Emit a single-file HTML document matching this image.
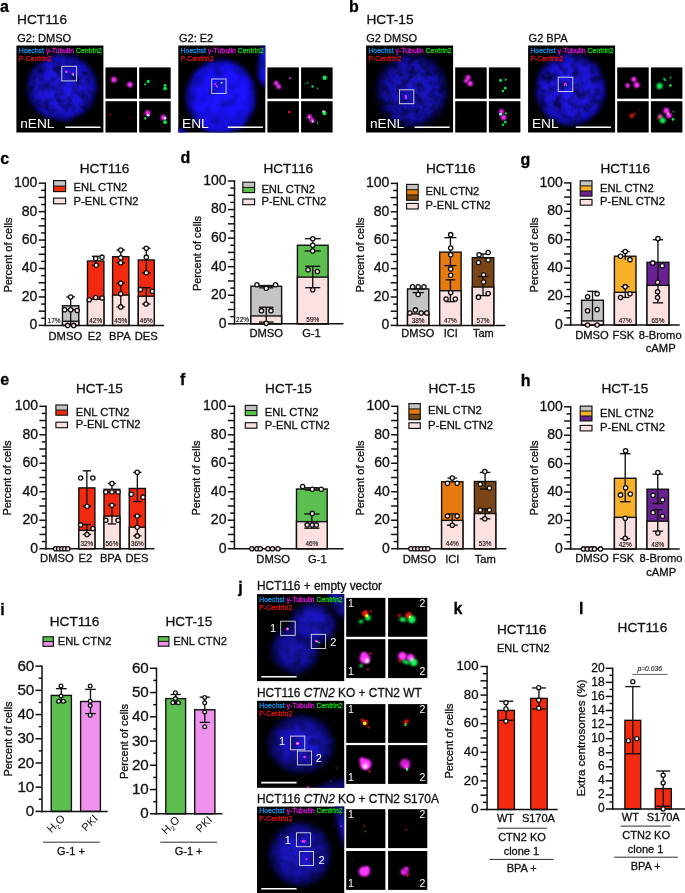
<!DOCTYPE html>
<html><head><meta charset="utf-8"><title>Figure</title>
<style>
html,body{margin:0;padding:0;background:#fff;}
svg{display:block;font-family:"Liberation Sans", Arial, Helvetica, sans-serif;}
</style></head><body>
<svg width="685" height="893" viewBox="0 0 685 893">
<rect width="685" height="893" fill="#fff"/>
<rect x="62.5" y="305.78" width="16.3" height="19.62" fill="#c4c4c4" stroke="#111" stroke-width="1.4" />
<rect x="62.5" y="321.28" width="16.3" height="4.12" fill="#fde0e0" stroke="#111" stroke-width="1.4" />
<line x1="70.65" y1="309.76" x2="70.65" y2="296.96" stroke="#111" stroke-width="1.35"/>
<line x1="66.35" y1="309.76" x2="74.95" y2="309.76" stroke="#111" stroke-width="1.35"/>
<line x1="66.35" y1="296.96" x2="74.95" y2="296.96" stroke="#111" stroke-width="1.35"/>
<line x1="70.65" y1="325.4" x2="70.65" y2="309.76" stroke="#111" stroke-width="1.35"/>
<text transform="translate(54 323.1) scale(0.86 1)" font-size="7.5" text-anchor="middle" fill="#111" stroke="#111" stroke-width="0.15">17%</text>
<rect x="87.5" y="260.98" width="16.4" height="64.42" fill="#f12a10" stroke="#111" stroke-width="1.4" />
<rect x="87.5" y="299.24" width="16.4" height="26.16" fill="#fde0e0" stroke="#111" stroke-width="1.4" />
<line x1="95.7" y1="265.25" x2="95.7" y2="256.29" stroke="#111" stroke-width="1.35"/>
<line x1="91.9" y1="265.25" x2="99.5" y2="265.25" stroke="#111" stroke-width="1.35"/>
<line x1="91.9" y1="256.29" x2="99.5" y2="256.29" stroke="#111" stroke-width="1.35"/>
<text transform="translate(95.7 323.1) scale(0.86 1)" font-size="7.5" text-anchor="middle" fill="#111" stroke="#111" stroke-width="0.15">42%</text>
<rect x="112.6" y="256.72" width="16.3" height="68.68" fill="#f12a10" stroke="#111" stroke-width="1.4" />
<rect x="112.6" y="295.11" width="16.3" height="30.29" fill="#fde0e0" stroke="#111" stroke-width="1.4" />
<line x1="120.75" y1="262.83" x2="120.75" y2="250.03" stroke="#111" stroke-width="1.35"/>
<line x1="116.45" y1="262.83" x2="125.05" y2="262.83" stroke="#111" stroke-width="1.35"/>
<line x1="116.45" y1="250.03" x2="125.05" y2="250.03" stroke="#111" stroke-width="1.35"/>
<line x1="120.75" y1="306.91" x2="120.75" y2="283.17" stroke="#111" stroke-width="1.35"/>
<line x1="116.45" y1="306.91" x2="125.05" y2="306.91" stroke="#111" stroke-width="1.35"/>
<line x1="116.45" y1="283.17" x2="125.05" y2="283.17" stroke="#111" stroke-width="1.35"/>
<text transform="translate(120.75 323.1) scale(0.86 1)" font-size="7.5" text-anchor="middle" fill="#111" stroke="#111" stroke-width="0.15">45%</text>
<rect x="138.3" y="259.99" width="16" height="65.41" fill="#f12a10" stroke="#111" stroke-width="1.4" />
<rect x="138.3" y="296.25" width="16" height="29.15" fill="#fde0e0" stroke="#111" stroke-width="1.4" />
<line x1="146.3" y1="272.79" x2="146.3" y2="248.19" stroke="#111" stroke-width="1.35"/>
<line x1="142" y1="272.79" x2="150.6" y2="272.79" stroke="#111" stroke-width="1.35"/>
<line x1="142" y1="248.19" x2="150.6" y2="248.19" stroke="#111" stroke-width="1.35"/>
<line x1="146.3" y1="304.07" x2="146.3" y2="287.72" stroke="#111" stroke-width="1.35"/>
<line x1="142" y1="304.07" x2="150.6" y2="304.07" stroke="#111" stroke-width="1.35"/>
<line x1="142" y1="287.72" x2="150.6" y2="287.72" stroke="#111" stroke-width="1.35"/>
<text transform="translate(146.3 323.1) scale(0.86 1)" font-size="7.5" text-anchor="middle" fill="#111" stroke="#111" stroke-width="0.15">46%</text>
<line x1="45.3" y1="182.45" x2="45.3" y2="326.15" stroke="#111" stroke-width="1.5"/>
<line x1="44.55" y1="325.4" x2="164" y2="325.4" stroke="#111" stroke-width="1.5"/>
<line x1="38.7" y1="325.4" x2="45.3" y2="325.4" stroke="#111" stroke-width="1.5"/>
<text x="37.35" y="329.29" font-size="14" text-anchor="end" fill="#111" stroke="#111" stroke-width="0.3">0</text>
<line x1="41.1" y1="318.29" x2="45.3" y2="318.29" stroke="#111" stroke-width="1.5"/>
<line x1="38.7" y1="311.18" x2="45.3" y2="311.18" stroke="#111" stroke-width="1.5"/>
<line x1="41.1" y1="304.07" x2="45.3" y2="304.07" stroke="#111" stroke-width="1.5"/>
<line x1="38.7" y1="296.96" x2="45.3" y2="296.96" stroke="#111" stroke-width="1.5"/>
<text x="37.35" y="300.85" font-size="14" text-anchor="end" fill="#111" stroke="#111" stroke-width="0.3">20</text>
<line x1="41.1" y1="289.85" x2="45.3" y2="289.85" stroke="#111" stroke-width="1.5"/>
<line x1="38.7" y1="282.74" x2="45.3" y2="282.74" stroke="#111" stroke-width="1.5"/>
<line x1="41.1" y1="275.63" x2="45.3" y2="275.63" stroke="#111" stroke-width="1.5"/>
<line x1="38.7" y1="268.52" x2="45.3" y2="268.52" stroke="#111" stroke-width="1.5"/>
<text x="37.35" y="272.41" font-size="14" text-anchor="end" fill="#111" stroke="#111" stroke-width="0.3">40</text>
<line x1="41.1" y1="261.41" x2="45.3" y2="261.41" stroke="#111" stroke-width="1.5"/>
<line x1="38.7" y1="254.3" x2="45.3" y2="254.3" stroke="#111" stroke-width="1.5"/>
<line x1="41.1" y1="247.19" x2="45.3" y2="247.19" stroke="#111" stroke-width="1.5"/>
<line x1="38.7" y1="240.08" x2="45.3" y2="240.08" stroke="#111" stroke-width="1.5"/>
<text x="37.35" y="243.97" font-size="14" text-anchor="end" fill="#111" stroke="#111" stroke-width="0.3">60</text>
<line x1="41.1" y1="232.97" x2="45.3" y2="232.97" stroke="#111" stroke-width="1.5"/>
<line x1="38.7" y1="225.86" x2="45.3" y2="225.86" stroke="#111" stroke-width="1.5"/>
<line x1="41.1" y1="218.75" x2="45.3" y2="218.75" stroke="#111" stroke-width="1.5"/>
<line x1="38.7" y1="211.64" x2="45.3" y2="211.64" stroke="#111" stroke-width="1.5"/>
<text x="37.35" y="215.53" font-size="14" text-anchor="end" fill="#111" stroke="#111" stroke-width="0.3">80</text>
<line x1="41.1" y1="204.53" x2="45.3" y2="204.53" stroke="#111" stroke-width="1.5"/>
<line x1="38.7" y1="197.42" x2="45.3" y2="197.42" stroke="#111" stroke-width="1.5"/>
<line x1="41.1" y1="190.31" x2="45.3" y2="190.31" stroke="#111" stroke-width="1.5"/>
<line x1="38.7" y1="183.2" x2="45.3" y2="183.2" stroke="#111" stroke-width="1.5"/>
<text x="37.35" y="187.09" font-size="14" text-anchor="end" fill="#111" stroke="#111" stroke-width="0.3">100</text>
<circle cx="64.65" cy="309.76" r="2.15" fill="#fff" stroke="#111" stroke-width="1.3" />
<circle cx="70.65" cy="309.76" r="2.15" fill="#fff" stroke="#111" stroke-width="1.3" />
<circle cx="77.15" cy="310.47" r="2.15" fill="#fde0e0" stroke="#111" stroke-width="1.3" />
<circle cx="70.65" cy="296.96" r="2.15" fill="#fff" stroke="#111" stroke-width="1.3" />
<circle cx="67.65" cy="325.4" r="2.15" fill="#fde0e0" stroke="#111" stroke-width="1.3" />
<circle cx="73.65" cy="325.4" r="2.15" fill="#fde0e0" stroke="#111" stroke-width="1.3" />
<circle cx="102" cy="257.14" r="2.15" fill="#fff" stroke="#111" stroke-width="1.3" />
<circle cx="95.7" cy="258.57" r="2.15" fill="#fff" stroke="#111" stroke-width="1.3" />
<circle cx="96.2" cy="265.25" r="2.15" fill="#fff" stroke="#111" stroke-width="1.3" />
<circle cx="89.3" cy="299.8" r="2.15" fill="#fde0e0" stroke="#111" stroke-width="1.3" />
<circle cx="95.7" cy="297.53" r="2.15" fill="#fde0e0" stroke="#111" stroke-width="1.3" />
<circle cx="102" cy="297.96" r="2.15" fill="#fde0e0" stroke="#111" stroke-width="1.3" />
<circle cx="120.75" cy="250.03" r="2.15" fill="#fff" stroke="#111" stroke-width="1.3" />
<circle cx="120.75" cy="257.85" r="2.15" fill="#fff" stroke="#111" stroke-width="1.3" />
<circle cx="120.75" cy="262.83" r="2.15" fill="#fff" stroke="#111" stroke-width="1.3" />
<circle cx="120.75" cy="283.17" r="2.15" fill="#fde0e0" stroke="#111" stroke-width="1.3" />
<circle cx="120.75" cy="293.69" r="2.15" fill="#fde0e0" stroke="#111" stroke-width="1.3" />
<circle cx="120.75" cy="306.91" r="2.15" fill="#fde0e0" stroke="#111" stroke-width="1.3" />
<circle cx="146.3" cy="248.19" r="2.15" fill="#fff" stroke="#111" stroke-width="1.3" />
<circle cx="146.3" cy="257.14" r="2.15" fill="#fff" stroke="#111" stroke-width="1.3" />
<circle cx="146.3" cy="272.79" r="2.15" fill="#fff" stroke="#111" stroke-width="1.3" />
<circle cx="140.5" cy="289.57" r="2.15" fill="#fde0e0" stroke="#111" stroke-width="1.3" />
<circle cx="152.2" cy="291.27" r="2.15" fill="#fde0e0" stroke="#111" stroke-width="1.3" />
<circle cx="146" cy="304.07" r="2.15" fill="#fde0e0" stroke="#111" stroke-width="1.3" />
<text x="104.6" y="172.6" font-size="13.6" text-anchor="middle" fill="#111" stroke="#111" stroke-width="0.3">HCT116</text>
<text x="11.8" y="255" font-size="11" text-anchor="middle" fill="#111" transform="rotate(-90 11.8 255)" stroke="#111" stroke-width="0.3">Percent of cells</text>
<text x="65.3" y="339.6" font-size="11.2" text-anchor="middle" fill="#111" stroke="#111" stroke-width="0.3">DMSO</text>
<text x="94.6" y="339.6" font-size="11.2" text-anchor="middle" fill="#111" stroke="#111" stroke-width="0.3">E2</text>
<text x="119.9" y="339.6" font-size="11.2" text-anchor="middle" fill="#111" stroke="#111" stroke-width="0.3">BPA</text>
<text x="146.2" y="339.6" font-size="11.2" text-anchor="middle" fill="#111" stroke="#111" stroke-width="0.3">DES</text>
<rect x="53.6" y="180.6" width="12" height="5.5" fill="#c4c4c4" />
<rect x="53.6" y="186.1" width="12" height="5.5" fill="#f12a10" />
<line x1="53.6" y1="186.1" x2="65.6" y2="186.1" stroke="#111" stroke-width="1"/>
<rect x="53.6" y="180.6" width="12" height="11" fill="none" stroke="#111" stroke-width="1.15" />
<text x="73.6" y="191.3" font-size="11.2" fill="#111" stroke="#111" stroke-width="0.3">ENL CTN2</text>
<rect x="53.6" y="198.1" width="12" height="5.7" fill="#fde0e0" stroke="#111" stroke-width="1.15" />
<text x="73.6" y="204.5" font-size="11.2" fill="#111" stroke="#111" stroke-width="0.3">P-ENL CTN2</text>
<rect x="250.9" y="286.24" width="30.7" height="37.56" fill="#c4c4c4" stroke="#111" stroke-width="1.4" />
<rect x="250.9" y="315.95" width="30.7" height="7.85" fill="#fde0e0" stroke="#111" stroke-width="1.4" />
<line x1="266.25" y1="287.81" x2="266.25" y2="285.53" stroke="#111" stroke-width="1.35"/>
<line x1="259.25" y1="287.81" x2="273.25" y2="287.81" stroke="#111" stroke-width="1.35"/>
<line x1="259.25" y1="285.53" x2="273.25" y2="285.53" stroke="#111" stroke-width="1.35"/>
<line x1="266.25" y1="322.09" x2="266.25" y2="307.24" stroke="#111" stroke-width="1.35"/>
<line x1="258.95" y1="322.09" x2="273.55" y2="322.09" stroke="#111" stroke-width="1.35"/>
<line x1="258.95" y1="307.24" x2="273.55" y2="307.24" stroke="#111" stroke-width="1.35"/>
<text transform="translate(242.5 321.5) scale(0.86 1)" font-size="7.5" text-anchor="middle" fill="#111" stroke="#111" stroke-width="0.15">22%</text>
<rect x="297.4" y="245.26" width="30.7" height="78.54" fill="#5cbf4f" stroke="#111" stroke-width="1.4" />
<rect x="297.4" y="277.1" width="30.7" height="46.7" fill="#fde0e0" stroke="#111" stroke-width="1.4" />
<line x1="312.75" y1="250.97" x2="312.75" y2="238.69" stroke="#111" stroke-width="1.35"/>
<line x1="304.75" y1="250.97" x2="320.75" y2="250.97" stroke="#111" stroke-width="1.35"/>
<line x1="304.75" y1="238.69" x2="320.75" y2="238.69" stroke="#111" stroke-width="1.35"/>
<line x1="312.75" y1="287.67" x2="312.75" y2="266.25" stroke="#111" stroke-width="1.35"/>
<line x1="305.25" y1="287.67" x2="320.25" y2="287.67" stroke="#111" stroke-width="1.35"/>
<line x1="305.25" y1="266.25" x2="320.25" y2="266.25" stroke="#111" stroke-width="1.35"/>
<text transform="translate(312.75 321.5) scale(0.86 1)" font-size="7.5" text-anchor="middle" fill="#111" stroke="#111" stroke-width="0.15">59%</text>
<line x1="234.5" y1="180.25" x2="234.5" y2="324.55" stroke="#111" stroke-width="1.5"/>
<line x1="233.75" y1="323.8" x2="343.4" y2="323.8" stroke="#111" stroke-width="1.5"/>
<line x1="227.9" y1="323.8" x2="234.5" y2="323.8" stroke="#111" stroke-width="1.5"/>
<text x="226.55" y="327.69" font-size="14" text-anchor="end" fill="#111" stroke="#111" stroke-width="0.3">0</text>
<line x1="230.3" y1="316.66" x2="234.5" y2="316.66" stroke="#111" stroke-width="1.5"/>
<line x1="227.9" y1="309.52" x2="234.5" y2="309.52" stroke="#111" stroke-width="1.5"/>
<line x1="230.3" y1="302.38" x2="234.5" y2="302.38" stroke="#111" stroke-width="1.5"/>
<line x1="227.9" y1="295.24" x2="234.5" y2="295.24" stroke="#111" stroke-width="1.5"/>
<text x="226.55" y="299.13" font-size="14" text-anchor="end" fill="#111" stroke="#111" stroke-width="0.3">20</text>
<line x1="230.3" y1="288.1" x2="234.5" y2="288.1" stroke="#111" stroke-width="1.5"/>
<line x1="227.9" y1="280.96" x2="234.5" y2="280.96" stroke="#111" stroke-width="1.5"/>
<line x1="230.3" y1="273.82" x2="234.5" y2="273.82" stroke="#111" stroke-width="1.5"/>
<line x1="227.9" y1="266.68" x2="234.5" y2="266.68" stroke="#111" stroke-width="1.5"/>
<text x="226.55" y="270.57" font-size="14" text-anchor="end" fill="#111" stroke="#111" stroke-width="0.3">40</text>
<line x1="230.3" y1="259.54" x2="234.5" y2="259.54" stroke="#111" stroke-width="1.5"/>
<line x1="227.9" y1="252.4" x2="234.5" y2="252.4" stroke="#111" stroke-width="1.5"/>
<line x1="230.3" y1="245.26" x2="234.5" y2="245.26" stroke="#111" stroke-width="1.5"/>
<line x1="227.9" y1="238.12" x2="234.5" y2="238.12" stroke="#111" stroke-width="1.5"/>
<text x="226.55" y="242.01" font-size="14" text-anchor="end" fill="#111" stroke="#111" stroke-width="0.3">60</text>
<line x1="230.3" y1="230.98" x2="234.5" y2="230.98" stroke="#111" stroke-width="1.5"/>
<line x1="227.9" y1="223.84" x2="234.5" y2="223.84" stroke="#111" stroke-width="1.5"/>
<line x1="230.3" y1="216.7" x2="234.5" y2="216.7" stroke="#111" stroke-width="1.5"/>
<line x1="227.9" y1="209.56" x2="234.5" y2="209.56" stroke="#111" stroke-width="1.5"/>
<text x="226.55" y="213.45" font-size="14" text-anchor="end" fill="#111" stroke="#111" stroke-width="0.3">80</text>
<line x1="230.3" y1="202.42" x2="234.5" y2="202.42" stroke="#111" stroke-width="1.5"/>
<line x1="227.9" y1="195.28" x2="234.5" y2="195.28" stroke="#111" stroke-width="1.5"/>
<line x1="230.3" y1="188.14" x2="234.5" y2="188.14" stroke="#111" stroke-width="1.5"/>
<line x1="227.9" y1="181" x2="234.5" y2="181" stroke="#111" stroke-width="1.5"/>
<text x="226.55" y="184.89" font-size="14" text-anchor="end" fill="#111" stroke="#111" stroke-width="0.3">100</text>
<circle cx="256.95" cy="284.82" r="2.15" fill="#fff" stroke="#111" stroke-width="1.3" />
<circle cx="275.55" cy="284.82" r="2.15" fill="#fff" stroke="#111" stroke-width="1.3" />
<circle cx="266.25" cy="288.24" r="2.15" fill="#fff" stroke="#111" stroke-width="1.3" />
<circle cx="261.45" cy="310.66" r="2.15" fill="#fde0e0" stroke="#111" stroke-width="1.3" />
<circle cx="270.95" cy="310.66" r="2.15" fill="#fde0e0" stroke="#111" stroke-width="1.3" />
<circle cx="266.25" cy="323.37" r="2.15" fill="#fde0e0" stroke="#111" stroke-width="1.3" />
<circle cx="312.75" cy="238.69" r="2.15" fill="#fff" stroke="#111" stroke-width="1.3" />
<circle cx="312.75" cy="245.26" r="2.15" fill="#fff" stroke="#111" stroke-width="1.3" />
<circle cx="312.75" cy="250.97" r="2.15" fill="#fff" stroke="#111" stroke-width="1.3" />
<circle cx="308.05" cy="269.82" r="2.15" fill="#fde0e0" stroke="#111" stroke-width="1.3" />
<circle cx="317.35" cy="271.54" r="2.15" fill="#fde0e0" stroke="#111" stroke-width="1.3" />
<circle cx="312.75" cy="289.81" r="2.15" fill="#fde0e0" stroke="#111" stroke-width="1.3" />
<text x="288.2" y="172.6" font-size="13.6" text-anchor="middle" fill="#111" stroke="#111" stroke-width="0.3">HCT116</text>
<text x="201.2" y="253.5" font-size="11" text-anchor="middle" fill="#111" transform="rotate(-90 201.2 253.5)" stroke="#111" stroke-width="0.3">Percent of cells</text>
<text x="266.2" y="336.6" font-size="11.2" text-anchor="middle" fill="#111" stroke="#111" stroke-width="0.3">DMSO</text>
<text x="311.5" y="336.6" font-size="11.2" text-anchor="middle" fill="#111" stroke="#111" stroke-width="0.3">G-1</text>
<rect x="242.8" y="182.2" width="11.8" height="5.2" fill="#c4c4c4" />
<rect x="242.8" y="187.4" width="11.8" height="5.2" fill="#5cbf4f" />
<line x1="242.8" y1="187.4" x2="254.6" y2="187.4" stroke="#111" stroke-width="1"/>
<rect x="242.8" y="182.2" width="11.8" height="10.4" fill="none" stroke="#111" stroke-width="1.15" />
<text x="261.4" y="192.6" font-size="11.2" fill="#111" stroke="#111" stroke-width="0.3">ENL CTN2</text>
<rect x="242.8" y="199" width="11.8" height="5.7" fill="#fde0e0" stroke="#111" stroke-width="1.15" />
<text x="261.4" y="205.2" font-size="11.2" fill="#111" stroke="#111" stroke-width="0.3">P-ENL CTN2</text>
<rect x="407.5" y="288.91" width="21.3" height="36.49" fill="#c4c4c4" stroke="#111" stroke-width="1.4" />
<rect x="407.5" y="313.9" width="21.3" height="11.5" fill="#fde0e0" stroke="#111" stroke-width="1.4" />
<line x1="418.15" y1="292.6" x2="418.15" y2="288.91" stroke="#111" stroke-width="1.35"/>
<line x1="412.55" y1="292.6" x2="423.75" y2="292.6" stroke="#111" stroke-width="1.35"/>
<line x1="412.55" y1="288.91" x2="423.75" y2="288.91" stroke="#111" stroke-width="1.35"/>
<text transform="translate(418.15 323.1) scale(0.86 1)" font-size="7.5" text-anchor="middle" fill="#111" stroke="#111" stroke-width="0.15">38%</text>
<rect x="439.7" y="252.13" width="21.4" height="73.27" fill="#e67a0e" stroke="#111" stroke-width="1.4" />
<rect x="439.7" y="290.75" width="21.4" height="34.65" fill="#fde0e0" stroke="#111" stroke-width="1.4" />
<line x1="450.4" y1="265.62" x2="450.4" y2="237.64" stroke="#111" stroke-width="1.35"/>
<line x1="444.4" y1="265.62" x2="456.4" y2="265.62" stroke="#111" stroke-width="1.35"/>
<line x1="444.4" y1="237.64" x2="456.4" y2="237.64" stroke="#111" stroke-width="1.35"/>
<line x1="450.4" y1="301.69" x2="450.4" y2="279.82" stroke="#111" stroke-width="1.35"/>
<line x1="445.6" y1="301.69" x2="455.2" y2="301.69" stroke="#111" stroke-width="1.35"/>
<line x1="445.6" y1="279.82" x2="455.2" y2="279.82" stroke="#111" stroke-width="1.35"/>
<text transform="translate(450.4 323.1) scale(0.86 1)" font-size="7.5" text-anchor="middle" fill="#111" stroke="#111" stroke-width="0.15">47%</text>
<rect x="472.3" y="257.67" width="21.5" height="67.73" fill="#7a4516" stroke="#111" stroke-width="1.4" />
<rect x="472.3" y="287.06" width="21.5" height="38.34" fill="#fde0e0" stroke="#111" stroke-width="1.4" />
<line x1="483.05" y1="257.67" x2="483.05" y2="253.97" stroke="#111" stroke-width="1.35"/>
<line x1="478.85" y1="253.97" x2="487.25" y2="253.97" stroke="#111" stroke-width="1.35"/>
<line x1="483.05" y1="295.58" x2="483.05" y2="276.55" stroke="#111" stroke-width="1.35"/>
<line x1="477.75" y1="295.58" x2="488.35" y2="295.58" stroke="#111" stroke-width="1.35"/>
<line x1="477.75" y1="276.55" x2="488.35" y2="276.55" stroke="#111" stroke-width="1.35"/>
<text transform="translate(483.05 323.1) scale(0.86 1)" font-size="7.5" text-anchor="middle" fill="#111" stroke="#111" stroke-width="0.15">57%</text>
<line x1="397.3" y1="182.65" x2="397.3" y2="326.15" stroke="#111" stroke-width="1.5"/>
<line x1="396.55" y1="325.4" x2="505.4" y2="325.4" stroke="#111" stroke-width="1.5"/>
<line x1="390.7" y1="325.4" x2="397.3" y2="325.4" stroke="#111" stroke-width="1.5"/>
<text x="389.35" y="329.29" font-size="14" text-anchor="end" fill="#111" stroke="#111" stroke-width="0.3">0</text>
<line x1="393.1" y1="318.3" x2="397.3" y2="318.3" stroke="#111" stroke-width="1.5"/>
<line x1="390.7" y1="311.2" x2="397.3" y2="311.2" stroke="#111" stroke-width="1.5"/>
<line x1="393.1" y1="304.1" x2="397.3" y2="304.1" stroke="#111" stroke-width="1.5"/>
<line x1="390.7" y1="297" x2="397.3" y2="297" stroke="#111" stroke-width="1.5"/>
<text x="389.35" y="300.89" font-size="14" text-anchor="end" fill="#111" stroke="#111" stroke-width="0.3">20</text>
<line x1="393.1" y1="289.9" x2="397.3" y2="289.9" stroke="#111" stroke-width="1.5"/>
<line x1="390.7" y1="282.8" x2="397.3" y2="282.8" stroke="#111" stroke-width="1.5"/>
<line x1="393.1" y1="275.7" x2="397.3" y2="275.7" stroke="#111" stroke-width="1.5"/>
<line x1="390.7" y1="268.6" x2="397.3" y2="268.6" stroke="#111" stroke-width="1.5"/>
<text x="389.35" y="272.49" font-size="14" text-anchor="end" fill="#111" stroke="#111" stroke-width="0.3">40</text>
<line x1="393.1" y1="261.5" x2="397.3" y2="261.5" stroke="#111" stroke-width="1.5"/>
<line x1="390.7" y1="254.4" x2="397.3" y2="254.4" stroke="#111" stroke-width="1.5"/>
<line x1="393.1" y1="247.3" x2="397.3" y2="247.3" stroke="#111" stroke-width="1.5"/>
<line x1="390.7" y1="240.2" x2="397.3" y2="240.2" stroke="#111" stroke-width="1.5"/>
<text x="389.35" y="244.09" font-size="14" text-anchor="end" fill="#111" stroke="#111" stroke-width="0.3">60</text>
<line x1="393.1" y1="233.1" x2="397.3" y2="233.1" stroke="#111" stroke-width="1.5"/>
<line x1="390.7" y1="226" x2="397.3" y2="226" stroke="#111" stroke-width="1.5"/>
<line x1="393.1" y1="218.9" x2="397.3" y2="218.9" stroke="#111" stroke-width="1.5"/>
<line x1="390.7" y1="211.8" x2="397.3" y2="211.8" stroke="#111" stroke-width="1.5"/>
<text x="389.35" y="215.69" font-size="14" text-anchor="end" fill="#111" stroke="#111" stroke-width="0.3">80</text>
<line x1="393.1" y1="204.7" x2="397.3" y2="204.7" stroke="#111" stroke-width="1.5"/>
<line x1="390.7" y1="197.6" x2="397.3" y2="197.6" stroke="#111" stroke-width="1.5"/>
<line x1="393.1" y1="190.5" x2="397.3" y2="190.5" stroke="#111" stroke-width="1.5"/>
<line x1="390.7" y1="183.4" x2="397.3" y2="183.4" stroke="#111" stroke-width="1.5"/>
<text x="389.35" y="187.29" font-size="14" text-anchor="end" fill="#111" stroke="#111" stroke-width="0.3">100</text>
<circle cx="412.55" cy="286.78" r="2.15" fill="#fff" stroke="#111" stroke-width="1.3" />
<circle cx="418.15" cy="286.78" r="2.15" fill="#fff" stroke="#111" stroke-width="1.3" />
<circle cx="423.95" cy="286.78" r="2.15" fill="#fff" stroke="#111" stroke-width="1.3" />
<circle cx="418.15" cy="294.44" r="2.15" fill="#fff" stroke="#111" stroke-width="1.3" />
<circle cx="409.85" cy="313.05" r="2.15" fill="#fde0e0" stroke="#111" stroke-width="1.3" />
<circle cx="415.35" cy="309.92" r="2.15" fill="#fde0e0" stroke="#111" stroke-width="1.3" />
<circle cx="421.15" cy="313.05" r="2.15" fill="#fde0e0" stroke="#111" stroke-width="1.3" />
<circle cx="426.75" cy="313.05" r="2.15" fill="#fde0e0" stroke="#111" stroke-width="1.3" />
<circle cx="450.7" cy="234.66" r="2.15" fill="#fff" stroke="#111" stroke-width="1.3" />
<circle cx="450.7" cy="248.01" r="2.15" fill="#fff" stroke="#111" stroke-width="1.3" />
<circle cx="450.7" cy="254.68" r="2.15" fill="#fff" stroke="#111" stroke-width="1.3" />
<circle cx="450.7" cy="268.88" r="2.15" fill="#fff" stroke="#111" stroke-width="1.3" />
<circle cx="450.7" cy="275.27" r="2.15" fill="#fff" stroke="#111" stroke-width="1.3" />
<circle cx="450.7" cy="292.6" r="2.15" fill="#fde0e0" stroke="#111" stroke-width="1.3" />
<circle cx="446.1" cy="298.99" r="2.15" fill="#fde0e0" stroke="#111" stroke-width="1.3" />
<circle cx="455.3" cy="298.99" r="2.15" fill="#fde0e0" stroke="#111" stroke-width="1.3" />
<circle cx="488.15" cy="252.55" r="2.15" fill="#fff" stroke="#111" stroke-width="1.3" />
<circle cx="479.05" cy="254.68" r="2.15" fill="#fff" stroke="#111" stroke-width="1.3" />
<circle cx="478.45" cy="262.49" r="2.15" fill="#fff" stroke="#111" stroke-width="1.3" />
<circle cx="488.15" cy="260.08" r="2.15" fill="#fff" stroke="#111" stroke-width="1.3" />
<circle cx="483.55" cy="274.71" r="2.15" fill="#fde0e0" stroke="#111" stroke-width="1.3" />
<circle cx="483.55" cy="281.95" r="2.15" fill="#fde0e0" stroke="#111" stroke-width="1.3" />
<circle cx="488.15" cy="293.45" r="2.15" fill="#fde0e0" stroke="#111" stroke-width="1.3" />
<circle cx="478.45" cy="297.14" r="2.15" fill="#fde0e0" stroke="#111" stroke-width="1.3" />
<text x="450.8" y="172.5" font-size="13.6" text-anchor="middle" fill="#111" stroke="#111" stroke-width="0.3">HCT116</text>
<text x="363.6" y="255" font-size="11" text-anchor="middle" fill="#111" transform="rotate(-90 363.6 255)" stroke="#111" stroke-width="0.3">Percent of cells</text>
<text x="417.8" y="337.3" font-size="11" text-anchor="middle" fill="#111" stroke="#111" stroke-width="0.3">DMSO</text>
<text x="450.7" y="337.3" font-size="11" text-anchor="middle" fill="#111" stroke="#111" stroke-width="0.3">ICI</text>
<text x="483.3" y="337.3" font-size="11" text-anchor="middle" fill="#111" stroke="#111" stroke-width="0.3">Tam</text>
<rect x="406.6" y="184.4" width="11.6" height="5.3" fill="#c4c4c4" />
<rect x="406.6" y="189.7" width="11.6" height="5.3" fill="#e67a0e" />
<rect x="406.6" y="195" width="11.6" height="5.3" fill="#7a4516" />
<line x1="406.6" y1="189.7" x2="418.2" y2="189.7" stroke="#111" stroke-width="1"/>
<line x1="406.6" y1="195" x2="418.2" y2="195" stroke="#111" stroke-width="1"/>
<rect x="406.6" y="184.4" width="11.6" height="15.9" fill="none" stroke="#111" stroke-width="1.15" />
<text x="425.6" y="194.8" font-size="11.2" fill="#111" stroke="#111" stroke-width="0.3">ENL CTN2</text>
<rect x="406.6" y="203.4" width="11.6" height="5.6" fill="#fde0e0" stroke="#111" stroke-width="1.15" />
<text x="425.6" y="209" font-size="11.2" fill="#111" stroke="#111" stroke-width="0.3">P-ENL CTN2</text>
<rect x="581.6" y="300.27" width="21.8" height="24.73" fill="#c4c4c4" stroke="#111" stroke-width="1.4" />
<rect x="581.6" y="320.88" width="21.8" height="4.12" fill="#fde0e0" stroke="#111" stroke-width="1.4" />
<line x1="592.5" y1="320.03" x2="592.5" y2="291.32" stroke="#111" stroke-width="1.35"/>
<line x1="587.3" y1="291.32" x2="597.7" y2="291.32" stroke="#111" stroke-width="1.35"/>
<rect x="614.4" y="256.22" width="21.6" height="68.78" fill="#f8b128" stroke="#111" stroke-width="1.4" />
<rect x="614.4" y="292.32" width="21.6" height="32.68" fill="#fde0e0" stroke="#111" stroke-width="1.4" />
<line x1="625.2" y1="259.63" x2="625.2" y2="251.53" stroke="#111" stroke-width="1.35"/>
<line x1="620.7" y1="251.53" x2="629.7" y2="251.53" stroke="#111" stroke-width="1.35"/>
<line x1="625.2" y1="297.43" x2="625.2" y2="286.63" stroke="#111" stroke-width="1.35"/>
<line x1="620.9" y1="297.43" x2="629.5" y2="297.43" stroke="#111" stroke-width="1.35"/>
<line x1="620.9" y1="286.63" x2="629.5" y2="286.63" stroke="#111" stroke-width="1.35"/>
<text transform="translate(625.2 322.7) scale(0.86 1)" font-size="7.5" text-anchor="middle" fill="#111" stroke="#111" stroke-width="0.15">47%</text>
<rect x="647" y="262.33" width="21.9" height="62.67" fill="#6a2191" stroke="#111" stroke-width="1.4" />
<rect x="647" y="285.35" width="21.9" height="39.65" fill="#fde0e0" stroke="#111" stroke-width="1.4" />
<line x1="657.95" y1="302.83" x2="657.95" y2="239.74" stroke="#111" stroke-width="1.35"/>
<line x1="652.75" y1="302.83" x2="663.15" y2="302.83" stroke="#111" stroke-width="1.35"/>
<line x1="652.75" y1="239.74" x2="663.15" y2="239.74" stroke="#111" stroke-width="1.35"/>
<text transform="translate(657.95 322.7) scale(0.86 1)" font-size="7.5" text-anchor="middle" fill="#111" stroke="#111" stroke-width="0.15">65%</text>
<line x1="570.7" y1="182.15" x2="570.7" y2="325.75" stroke="#111" stroke-width="1.5"/>
<line x1="569.95" y1="325" x2="679.7" y2="325" stroke="#111" stroke-width="1.5"/>
<line x1="564.1" y1="325" x2="570.7" y2="325" stroke="#111" stroke-width="1.5"/>
<text x="562.75" y="328.89" font-size="14" text-anchor="end" fill="#111" stroke="#111" stroke-width="0.3">0</text>
<line x1="566.5" y1="317.89" x2="570.7" y2="317.89" stroke="#111" stroke-width="1.5"/>
<line x1="564.1" y1="310.79" x2="570.7" y2="310.79" stroke="#111" stroke-width="1.5"/>
<line x1="566.5" y1="303.69" x2="570.7" y2="303.69" stroke="#111" stroke-width="1.5"/>
<line x1="564.1" y1="296.58" x2="570.7" y2="296.58" stroke="#111" stroke-width="1.5"/>
<text x="562.75" y="300.47" font-size="14" text-anchor="end" fill="#111" stroke="#111" stroke-width="0.3">20</text>
<line x1="566.5" y1="289.48" x2="570.7" y2="289.48" stroke="#111" stroke-width="1.5"/>
<line x1="564.1" y1="282.37" x2="570.7" y2="282.37" stroke="#111" stroke-width="1.5"/>
<line x1="566.5" y1="275.26" x2="570.7" y2="275.26" stroke="#111" stroke-width="1.5"/>
<line x1="564.1" y1="268.16" x2="570.7" y2="268.16" stroke="#111" stroke-width="1.5"/>
<text x="562.75" y="272.05" font-size="14" text-anchor="end" fill="#111" stroke="#111" stroke-width="0.3">40</text>
<line x1="566.5" y1="261.06" x2="570.7" y2="261.06" stroke="#111" stroke-width="1.5"/>
<line x1="564.1" y1="253.95" x2="570.7" y2="253.95" stroke="#111" stroke-width="1.5"/>
<line x1="566.5" y1="246.84" x2="570.7" y2="246.84" stroke="#111" stroke-width="1.5"/>
<line x1="564.1" y1="239.74" x2="570.7" y2="239.74" stroke="#111" stroke-width="1.5"/>
<text x="562.75" y="243.63" font-size="14" text-anchor="end" fill="#111" stroke="#111" stroke-width="0.3">60</text>
<line x1="566.5" y1="232.63" x2="570.7" y2="232.63" stroke="#111" stroke-width="1.5"/>
<line x1="564.1" y1="225.53" x2="570.7" y2="225.53" stroke="#111" stroke-width="1.5"/>
<line x1="566.5" y1="218.43" x2="570.7" y2="218.43" stroke="#111" stroke-width="1.5"/>
<line x1="564.1" y1="211.32" x2="570.7" y2="211.32" stroke="#111" stroke-width="1.5"/>
<text x="562.75" y="215.21" font-size="14" text-anchor="end" fill="#111" stroke="#111" stroke-width="0.3">80</text>
<line x1="566.5" y1="204.22" x2="570.7" y2="204.22" stroke="#111" stroke-width="1.5"/>
<line x1="564.1" y1="197.11" x2="570.7" y2="197.11" stroke="#111" stroke-width="1.5"/>
<line x1="566.5" y1="190" x2="570.7" y2="190" stroke="#111" stroke-width="1.5"/>
<line x1="564.1" y1="182.9" x2="570.7" y2="182.9" stroke="#111" stroke-width="1.5"/>
<text x="562.75" y="186.79" font-size="14" text-anchor="end" fill="#111" stroke="#111" stroke-width="0.3">100</text>
<circle cx="597.1" cy="293.74" r="2.15" fill="#fff" stroke="#111" stroke-width="1.3" />
<circle cx="587.6" cy="296.72" r="2.15" fill="#fff" stroke="#111" stroke-width="1.3" />
<circle cx="597.1" cy="309.51" r="2.15" fill="#fff" stroke="#111" stroke-width="1.3" />
<circle cx="587.6" cy="310.79" r="2.15" fill="#fde0e0" stroke="#111" stroke-width="1.3" />
<circle cx="587.6" cy="325" r="2.15" fill="#fde0e0" stroke="#111" stroke-width="1.3" />
<circle cx="597.1" cy="325" r="2.15" fill="#fde0e0" stroke="#111" stroke-width="1.3" />
<circle cx="625.2" cy="251.53" r="2.15" fill="#fff" stroke="#111" stroke-width="1.3" />
<circle cx="620.5" cy="256.22" r="2.15" fill="#fff" stroke="#111" stroke-width="1.3" />
<circle cx="630" cy="259.63" r="2.15" fill="#fff" stroke="#111" stroke-width="1.3" />
<circle cx="625.2" cy="286.63" r="2.15" fill="#fde0e0" stroke="#111" stroke-width="1.3" />
<circle cx="630" cy="293.74" r="2.15" fill="#fde0e0" stroke="#111" stroke-width="1.3" />
<circle cx="620.5" cy="297.43" r="2.15" fill="#fde0e0" stroke="#111" stroke-width="1.3" />
<circle cx="657.95" cy="238.6" r="2.15" fill="#fff" stroke="#111" stroke-width="1.3" />
<circle cx="652.75" cy="262.9" r="2.15" fill="#fde0e0" stroke="#111" stroke-width="1.3" />
<circle cx="662.25" cy="265.74" r="2.15" fill="#fff" stroke="#111" stroke-width="1.3" />
<circle cx="657.55" cy="282.37" r="2.15" fill="#fde0e0" stroke="#111" stroke-width="1.3" />
<circle cx="657.55" cy="291.75" r="2.15" fill="#fde0e0" stroke="#111" stroke-width="1.3" />
<circle cx="657.55" cy="297.43" r="2.15" fill="#fde0e0" stroke="#111" stroke-width="1.3" />
<text x="625.2" y="172.5" font-size="13.6" text-anchor="middle" fill="#111" stroke="#111" stroke-width="0.3">HCT116</text>
<text x="537.8" y="255" font-size="11" text-anchor="middle" fill="#111" transform="rotate(-90 537.8 255)" stroke="#111" stroke-width="0.3">Percent of cells</text>
<text x="592" y="338.7" font-size="11.2" text-anchor="middle" fill="#111" stroke="#111" stroke-width="0.3">DMSO</text>
<text x="623.4" y="338.7" font-size="11.2" text-anchor="middle" fill="#111" stroke="#111" stroke-width="0.3">FSK</text>
<text x="660.2" y="338.7" font-size="11.2" text-anchor="middle" fill="#111" stroke="#111" stroke-width="0.3">8-Bromo</text>
<text x="660.7" y="352.2" font-size="11.2" text-anchor="middle" fill="#111" stroke="#111" stroke-width="0.3">cAMP</text>
<rect x="580.2" y="180.8" width="11.8" height="5.1" fill="#c4c4c4" />
<rect x="580.2" y="185.9" width="11.8" height="5.1" fill="#f8b128" />
<rect x="580.2" y="191" width="11.8" height="5.1" fill="#6a2191" />
<line x1="580.2" y1="185.9" x2="592" y2="185.9" stroke="#111" stroke-width="1"/>
<line x1="580.2" y1="191" x2="592" y2="191" stroke="#111" stroke-width="1"/>
<rect x="580.2" y="180.8" width="11.8" height="15.3" fill="none" stroke="#111" stroke-width="1.15" />
<text x="600" y="191.5" font-size="11.2" fill="#111" stroke="#111" stroke-width="0.3">ENL CTN2</text>
<rect x="580.2" y="199.4" width="11.8" height="5.8" fill="#fde0e0" stroke="#111" stroke-width="1.15" />
<text x="600" y="205.2" font-size="11.2" fill="#111" stroke="#111" stroke-width="0.3">P-ENL CTN2</text>
<rect x="78.8" y="487.9" width="16.1" height="60.8" fill="#f12a10" stroke="#111" stroke-width="1.4" />
<rect x="78.8" y="530.33" width="16.1" height="18.37" fill="#fde0e0" stroke="#111" stroke-width="1.4" />
<line x1="86.85" y1="506.26" x2="86.85" y2="470.81" stroke="#111" stroke-width="1.35"/>
<line x1="82.65" y1="506.26" x2="91.05" y2="506.26" stroke="#111" stroke-width="1.35"/>
<line x1="82.65" y1="470.81" x2="91.05" y2="470.81" stroke="#111" stroke-width="1.35"/>
<line x1="86.85" y1="534.46" x2="86.85" y2="524.49" stroke="#111" stroke-width="1.35"/>
<line x1="82.65" y1="534.46" x2="91.05" y2="534.46" stroke="#111" stroke-width="1.35"/>
<line x1="82.65" y1="524.49" x2="91.05" y2="524.49" stroke="#111" stroke-width="1.35"/>
<text transform="translate(86.85 546.4) scale(0.86 1)" font-size="7.5" text-anchor="middle" fill="#111" stroke="#111" stroke-width="0.15">32%</text>
<rect x="104" y="489.32" width="15.9" height="59.38" fill="#f12a10" stroke="#111" stroke-width="1.4" />
<rect x="104" y="516.09" width="15.9" height="32.61" fill="#fde0e0" stroke="#111" stroke-width="1.4" />
<line x1="111.95" y1="492.02" x2="111.95" y2="483.48" stroke="#111" stroke-width="1.35"/>
<line x1="107.75" y1="492.02" x2="116.15" y2="492.02" stroke="#111" stroke-width="1.35"/>
<line x1="107.75" y1="483.48" x2="116.15" y2="483.48" stroke="#111" stroke-width="1.35"/>
<line x1="111.95" y1="523.92" x2="111.95" y2="505.27" stroke="#111" stroke-width="1.35"/>
<line x1="107.75" y1="523.92" x2="116.15" y2="523.92" stroke="#111" stroke-width="1.35"/>
<line x1="107.75" y1="505.27" x2="116.15" y2="505.27" stroke="#111" stroke-width="1.35"/>
<text transform="translate(111.95 546.4) scale(0.86 1)" font-size="7.5" text-anchor="middle" fill="#111" stroke="#111" stroke-width="0.15">56%</text>
<rect x="129.3" y="488.46" width="16.1" height="60.24" fill="#f12a10" stroke="#111" stroke-width="1.4" />
<rect x="129.3" y="527.2" width="16.1" height="21.5" fill="#fde0e0" stroke="#111" stroke-width="1.4" />
<line x1="137.35" y1="501.57" x2="137.35" y2="472.37" stroke="#111" stroke-width="1.35"/>
<line x1="133.15" y1="501.57" x2="141.55" y2="501.57" stroke="#111" stroke-width="1.35"/>
<line x1="133.15" y1="472.37" x2="141.55" y2="472.37" stroke="#111" stroke-width="1.35"/>
<line x1="137.35" y1="535.88" x2="137.35" y2="516.09" stroke="#111" stroke-width="1.35"/>
<line x1="133.15" y1="535.88" x2="141.55" y2="535.88" stroke="#111" stroke-width="1.35"/>
<line x1="133.15" y1="516.09" x2="141.55" y2="516.09" stroke="#111" stroke-width="1.35"/>
<text transform="translate(137.35 546.4) scale(0.86 1)" font-size="7.5" text-anchor="middle" fill="#111" stroke="#111" stroke-width="0.15">36%</text>
<line x1="46" y1="405.55" x2="46" y2="549.45" stroke="#111" stroke-width="1.5"/>
<line x1="45.25" y1="548.7" x2="154.5" y2="548.7" stroke="#111" stroke-width="1.5"/>
<line x1="39.4" y1="548.7" x2="46" y2="548.7" stroke="#111" stroke-width="1.5"/>
<text x="38.05" y="552.59" font-size="14" text-anchor="end" fill="#111" stroke="#111" stroke-width="0.3">0</text>
<line x1="41.8" y1="541.58" x2="46" y2="541.58" stroke="#111" stroke-width="1.5"/>
<line x1="39.4" y1="534.46" x2="46" y2="534.46" stroke="#111" stroke-width="1.5"/>
<line x1="41.8" y1="527.34" x2="46" y2="527.34" stroke="#111" stroke-width="1.5"/>
<line x1="39.4" y1="520.22" x2="46" y2="520.22" stroke="#111" stroke-width="1.5"/>
<text x="38.05" y="524.11" font-size="14" text-anchor="end" fill="#111" stroke="#111" stroke-width="0.3">20</text>
<line x1="41.8" y1="513.1" x2="46" y2="513.1" stroke="#111" stroke-width="1.5"/>
<line x1="39.4" y1="505.98" x2="46" y2="505.98" stroke="#111" stroke-width="1.5"/>
<line x1="41.8" y1="498.86" x2="46" y2="498.86" stroke="#111" stroke-width="1.5"/>
<line x1="39.4" y1="491.74" x2="46" y2="491.74" stroke="#111" stroke-width="1.5"/>
<text x="38.05" y="495.63" font-size="14" text-anchor="end" fill="#111" stroke="#111" stroke-width="0.3">40</text>
<line x1="41.8" y1="484.62" x2="46" y2="484.62" stroke="#111" stroke-width="1.5"/>
<line x1="39.4" y1="477.5" x2="46" y2="477.5" stroke="#111" stroke-width="1.5"/>
<line x1="41.8" y1="470.38" x2="46" y2="470.38" stroke="#111" stroke-width="1.5"/>
<line x1="39.4" y1="463.26" x2="46" y2="463.26" stroke="#111" stroke-width="1.5"/>
<text x="38.05" y="467.15" font-size="14" text-anchor="end" fill="#111" stroke="#111" stroke-width="0.3">60</text>
<line x1="41.8" y1="456.14" x2="46" y2="456.14" stroke="#111" stroke-width="1.5"/>
<line x1="39.4" y1="449.02" x2="46" y2="449.02" stroke="#111" stroke-width="1.5"/>
<line x1="41.8" y1="441.9" x2="46" y2="441.9" stroke="#111" stroke-width="1.5"/>
<line x1="39.4" y1="434.78" x2="46" y2="434.78" stroke="#111" stroke-width="1.5"/>
<text x="38.05" y="438.67" font-size="14" text-anchor="end" fill="#111" stroke="#111" stroke-width="0.3">80</text>
<line x1="41.8" y1="427.66" x2="46" y2="427.66" stroke="#111" stroke-width="1.5"/>
<line x1="39.4" y1="420.54" x2="46" y2="420.54" stroke="#111" stroke-width="1.5"/>
<line x1="41.8" y1="413.42" x2="46" y2="413.42" stroke="#111" stroke-width="1.5"/>
<line x1="39.4" y1="406.3" x2="46" y2="406.3" stroke="#111" stroke-width="1.5"/>
<text x="38.05" y="410.19" font-size="14" text-anchor="end" fill="#111" stroke="#111" stroke-width="0.3">100</text>
<circle cx="55.6" cy="548.7" r="2.15" fill="#fde0e0" stroke="#111" stroke-width="1.3" />
<circle cx="58.7" cy="548.7" r="2.15" fill="#fde0e0" stroke="#111" stroke-width="1.3" />
<circle cx="61.8" cy="548.7" r="2.15" fill="#fde0e0" stroke="#111" stroke-width="1.3" />
<circle cx="64.7" cy="548.7" r="2.15" fill="#fde0e0" stroke="#111" stroke-width="1.3" />
<circle cx="67.8" cy="548.7" r="2.15" fill="#fde0e0" stroke="#111" stroke-width="1.3" />
<circle cx="80.65" cy="477.93" r="2.15" fill="#fff" stroke="#111" stroke-width="1.3" />
<circle cx="92.85" cy="477.93" r="2.15" fill="#fff" stroke="#111" stroke-width="1.3" />
<circle cx="87.05" cy="506.26" r="2.15" fill="#fff" stroke="#111" stroke-width="1.3" />
<circle cx="80.65" cy="524.92" r="2.15" fill="#fde0e0" stroke="#111" stroke-width="1.3" />
<circle cx="92.85" cy="528.48" r="2.15" fill="#fde0e0" stroke="#111" stroke-width="1.3" />
<circle cx="87.05" cy="534.46" r="2.15" fill="#fde0e0" stroke="#111" stroke-width="1.3" />
<circle cx="111.95" cy="483.48" r="2.15" fill="#fff" stroke="#111" stroke-width="1.3" />
<circle cx="105.85" cy="492.02" r="2.15" fill="#fff" stroke="#111" stroke-width="1.3" />
<circle cx="111.95" cy="492.02" r="2.15" fill="#fff" stroke="#111" stroke-width="1.3" />
<circle cx="118.05" cy="492.02" r="2.15" fill="#fff" stroke="#111" stroke-width="1.3" />
<circle cx="111.95" cy="505.27" r="2.15" fill="#fde0e0" stroke="#111" stroke-width="1.3" />
<circle cx="105.85" cy="520.22" r="2.15" fill="#fde0e0" stroke="#111" stroke-width="1.3" />
<circle cx="118.05" cy="520.22" r="2.15" fill="#fde0e0" stroke="#111" stroke-width="1.3" />
<circle cx="137.25" cy="472.37" r="2.15" fill="#fff" stroke="#111" stroke-width="1.3" />
<circle cx="131.25" cy="494.3" r="2.15" fill="#fff" stroke="#111" stroke-width="1.3" />
<circle cx="143.05" cy="497.15" r="2.15" fill="#fff" stroke="#111" stroke-width="1.3" />
<circle cx="137.25" cy="516.09" r="2.15" fill="#fde0e0" stroke="#111" stroke-width="1.3" />
<circle cx="137.25" cy="527.34" r="2.15" fill="#fde0e0" stroke="#111" stroke-width="1.3" />
<circle cx="137.25" cy="535.88" r="2.15" fill="#fde0e0" stroke="#111" stroke-width="1.3" />
<text x="99.4" y="392.9" font-size="13.6" text-anchor="middle" fill="#111" stroke="#111" stroke-width="0.3">HCT-15</text>
<text x="11.2" y="478" font-size="11" text-anchor="middle" fill="#111" transform="rotate(-90 11.2 478)" stroke="#111" stroke-width="0.3">Percent of cells</text>
<text x="56.9" y="562.3" font-size="11.2" text-anchor="middle" fill="#111" stroke="#111" stroke-width="0.3">DMSO</text>
<text x="85.4" y="562.3" font-size="11.2" text-anchor="middle" fill="#111" stroke="#111" stroke-width="0.3">E2</text>
<text x="110.7" y="562.3" font-size="11.2" text-anchor="middle" fill="#111" stroke="#111" stroke-width="0.3">BPA</text>
<text x="136.9" y="562.3" font-size="11.2" text-anchor="middle" fill="#111" stroke="#111" stroke-width="0.3">DES</text>
<rect x="55.9" y="405" width="11.6" height="5.1" fill="#c4c4c4" />
<rect x="55.9" y="410.1" width="11.6" height="5.1" fill="#f12a10" />
<line x1="55.9" y1="410.1" x2="67.5" y2="410.1" stroke="#111" stroke-width="1"/>
<rect x="55.9" y="405" width="11.6" height="10.2" fill="none" stroke="#111" stroke-width="1.15" />
<text x="75.7" y="415.6" font-size="11.2" fill="#111" stroke="#111" stroke-width="0.3">ENL CTN2</text>
<rect x="55.9" y="422.2" width="11.6" height="5.5" fill="#fde0e0" stroke="#111" stroke-width="1.15" />
<text x="75.7" y="428" font-size="11.2" fill="#111" stroke="#111" stroke-width="0.3">P-ENL CTN2</text>
<rect x="296.5" y="489.03" width="30.7" height="59.67" fill="#5cbf4f" stroke="#111" stroke-width="1.4" />
<rect x="296.5" y="521.64" width="30.7" height="27.06" fill="#fde0e0" stroke="#111" stroke-width="1.4" />
<line x1="311.85" y1="490.03" x2="311.85" y2="487.75" stroke="#111" stroke-width="1.35"/>
<line x1="304.85" y1="490.03" x2="318.85" y2="490.03" stroke="#111" stroke-width="1.35"/>
<line x1="304.85" y1="487.75" x2="318.85" y2="487.75" stroke="#111" stroke-width="1.35"/>
<line x1="311.85" y1="528.19" x2="311.85" y2="513.95" stroke="#111" stroke-width="1.35"/>
<line x1="304.25" y1="528.19" x2="319.45" y2="528.19" stroke="#111" stroke-width="1.35"/>
<line x1="304.25" y1="513.95" x2="319.45" y2="513.95" stroke="#111" stroke-width="1.35"/>
<text transform="translate(311.85 546.4) scale(0.86 1)" font-size="7.5" text-anchor="middle" fill="#111" stroke="#111" stroke-width="0.15">46%</text>
<line x1="234.4" y1="405.55" x2="234.4" y2="549.45" stroke="#111" stroke-width="1.5"/>
<line x1="233.65" y1="548.7" x2="343.6" y2="548.7" stroke="#111" stroke-width="1.5"/>
<line x1="227.8" y1="548.7" x2="234.4" y2="548.7" stroke="#111" stroke-width="1.5"/>
<text x="226.45" y="552.59" font-size="14" text-anchor="end" fill="#111" stroke="#111" stroke-width="0.3">0</text>
<line x1="230.2" y1="541.58" x2="234.4" y2="541.58" stroke="#111" stroke-width="1.5"/>
<line x1="227.8" y1="534.46" x2="234.4" y2="534.46" stroke="#111" stroke-width="1.5"/>
<line x1="230.2" y1="527.34" x2="234.4" y2="527.34" stroke="#111" stroke-width="1.5"/>
<line x1="227.8" y1="520.22" x2="234.4" y2="520.22" stroke="#111" stroke-width="1.5"/>
<text x="226.45" y="524.11" font-size="14" text-anchor="end" fill="#111" stroke="#111" stroke-width="0.3">20</text>
<line x1="230.2" y1="513.1" x2="234.4" y2="513.1" stroke="#111" stroke-width="1.5"/>
<line x1="227.8" y1="505.98" x2="234.4" y2="505.98" stroke="#111" stroke-width="1.5"/>
<line x1="230.2" y1="498.86" x2="234.4" y2="498.86" stroke="#111" stroke-width="1.5"/>
<line x1="227.8" y1="491.74" x2="234.4" y2="491.74" stroke="#111" stroke-width="1.5"/>
<text x="226.45" y="495.63" font-size="14" text-anchor="end" fill="#111" stroke="#111" stroke-width="0.3">40</text>
<line x1="230.2" y1="484.62" x2="234.4" y2="484.62" stroke="#111" stroke-width="1.5"/>
<line x1="227.8" y1="477.5" x2="234.4" y2="477.5" stroke="#111" stroke-width="1.5"/>
<line x1="230.2" y1="470.38" x2="234.4" y2="470.38" stroke="#111" stroke-width="1.5"/>
<line x1="227.8" y1="463.26" x2="234.4" y2="463.26" stroke="#111" stroke-width="1.5"/>
<text x="226.45" y="467.15" font-size="14" text-anchor="end" fill="#111" stroke="#111" stroke-width="0.3">60</text>
<line x1="230.2" y1="456.14" x2="234.4" y2="456.14" stroke="#111" stroke-width="1.5"/>
<line x1="227.8" y1="449.02" x2="234.4" y2="449.02" stroke="#111" stroke-width="1.5"/>
<line x1="230.2" y1="441.9" x2="234.4" y2="441.9" stroke="#111" stroke-width="1.5"/>
<line x1="227.8" y1="434.78" x2="234.4" y2="434.78" stroke="#111" stroke-width="1.5"/>
<text x="226.45" y="438.67" font-size="14" text-anchor="end" fill="#111" stroke="#111" stroke-width="0.3">80</text>
<line x1="230.2" y1="427.66" x2="234.4" y2="427.66" stroke="#111" stroke-width="1.5"/>
<line x1="227.8" y1="420.54" x2="234.4" y2="420.54" stroke="#111" stroke-width="1.5"/>
<line x1="230.2" y1="413.42" x2="234.4" y2="413.42" stroke="#111" stroke-width="1.5"/>
<line x1="227.8" y1="406.3" x2="234.4" y2="406.3" stroke="#111" stroke-width="1.5"/>
<text x="226.45" y="410.19" font-size="14" text-anchor="end" fill="#111" stroke="#111" stroke-width="0.3">100</text>
<circle cx="251.85" cy="548.7" r="2.15" fill="#fde0e0" stroke="#111" stroke-width="1.3" />
<circle cx="256.95" cy="548.7" r="2.15" fill="#fde0e0" stroke="#111" stroke-width="1.3" />
<circle cx="260.25" cy="548.7" r="2.15" fill="#fde0e0" stroke="#111" stroke-width="1.3" />
<circle cx="267.95" cy="548.7" r="2.15" fill="#fde0e0" stroke="#111" stroke-width="1.3" />
<circle cx="272.45" cy="548.7" r="2.15" fill="#fde0e0" stroke="#111" stroke-width="1.3" />
<circle cx="277.95" cy="548.7" r="2.15" fill="#fde0e0" stroke="#111" stroke-width="1.3" />
<circle cx="302.65" cy="486.61" r="2.15" fill="#fff" stroke="#111" stroke-width="1.3" />
<circle cx="312.25" cy="489.32" r="2.15" fill="#fff" stroke="#111" stroke-width="1.3" />
<circle cx="321.25" cy="489.32" r="2.15" fill="#fff" stroke="#111" stroke-width="1.3" />
<circle cx="312.25" cy="513.38" r="2.15" fill="#fde0e0" stroke="#111" stroke-width="1.3" />
<circle cx="307.15" cy="524.92" r="2.15" fill="#fde0e0" stroke="#111" stroke-width="1.3" />
<circle cx="312.25" cy="524.92" r="2.15" fill="#fde0e0" stroke="#111" stroke-width="1.3" />
<circle cx="316.25" cy="524.92" r="2.15" fill="#fde0e0" stroke="#111" stroke-width="1.3" />
<text x="288.5" y="392.9" font-size="13.6" text-anchor="middle" fill="#111" stroke="#111" stroke-width="0.3">HCT-15</text>
<text x="199.8" y="478" font-size="11" text-anchor="middle" fill="#111" transform="rotate(-90 199.8 478)" stroke="#111" stroke-width="0.3">Percent of cells</text>
<text x="273.1" y="562.6" font-size="11.2" text-anchor="middle" fill="#111" stroke="#111" stroke-width="0.3">DMSO</text>
<text x="317.3" y="562.6" font-size="11.2" text-anchor="middle" fill="#111" stroke="#111" stroke-width="0.3">G-1</text>
<rect x="245.3" y="405.4" width="11.6" height="5.1" fill="#c4c4c4" />
<rect x="245.3" y="410.5" width="11.6" height="5.1" fill="#5cbf4f" />
<line x1="245.3" y1="410.5" x2="256.9" y2="410.5" stroke="#111" stroke-width="1"/>
<rect x="245.3" y="405.4" width="11.6" height="10.2" fill="none" stroke="#111" stroke-width="1.15" />
<text x="264.8" y="416" font-size="11.2" fill="#111" stroke="#111" stroke-width="0.3">ENL CTN2</text>
<rect x="245.3" y="422.7" width="11.6" height="5.5" fill="#fde0e0" stroke="#111" stroke-width="1.15" />
<text x="264.8" y="428.5" font-size="11.2" fill="#111" stroke="#111" stroke-width="0.3">P-ENL CTN2</text>
<rect x="441.6" y="481.77" width="21.3" height="66.93" fill="#e67a0e" stroke="#111" stroke-width="1.4" />
<rect x="441.6" y="520.36" width="21.3" height="28.34" fill="#fde0e0" stroke="#111" stroke-width="1.4" />
<line x1="452.25" y1="481.77" x2="452.25" y2="478.07" stroke="#111" stroke-width="1.35"/>
<line x1="447.45" y1="478.07" x2="457.05" y2="478.07" stroke="#111" stroke-width="1.35"/>
<line x1="452.25" y1="525.2" x2="452.25" y2="513.95" stroke="#111" stroke-width="1.35"/>
<line x1="446.85" y1="525.2" x2="457.65" y2="525.2" stroke="#111" stroke-width="1.35"/>
<line x1="446.85" y1="513.95" x2="457.65" y2="513.95" stroke="#111" stroke-width="1.35"/>
<text transform="translate(452.25 546.4) scale(0.86 1)" font-size="7.5" text-anchor="middle" fill="#111" stroke="#111" stroke-width="0.15">44%</text>
<rect x="474.4" y="481.49" width="21.4" height="67.21" fill="#7a4516" stroke="#111" stroke-width="1.4" />
<rect x="474.4" y="513.53" width="21.4" height="35.17" fill="#fde0e0" stroke="#111" stroke-width="1.4" />
<line x1="485.1" y1="489.03" x2="485.1" y2="472.37" stroke="#111" stroke-width="1.35"/>
<line x1="479.8" y1="489.03" x2="490.4" y2="489.03" stroke="#111" stroke-width="1.35"/>
<line x1="479.8" y1="472.37" x2="490.4" y2="472.37" stroke="#111" stroke-width="1.35"/>
<line x1="485.1" y1="518.8" x2="485.1" y2="508.83" stroke="#111" stroke-width="1.35"/>
<line x1="479.8" y1="518.8" x2="490.4" y2="518.8" stroke="#111" stroke-width="1.35"/>
<line x1="479.8" y1="508.83" x2="490.4" y2="508.83" stroke="#111" stroke-width="1.35"/>
<text transform="translate(485.1 546.4) scale(0.86 1)" font-size="7.5" text-anchor="middle" fill="#111" stroke="#111" stroke-width="0.15">53%</text>
<line x1="397.7" y1="405.55" x2="397.7" y2="549.45" stroke="#111" stroke-width="1.5"/>
<line x1="396.95" y1="548.7" x2="506.4" y2="548.7" stroke="#111" stroke-width="1.5"/>
<line x1="391.1" y1="548.7" x2="397.7" y2="548.7" stroke="#111" stroke-width="1.5"/>
<text x="389.75" y="552.59" font-size="14" text-anchor="end" fill="#111" stroke="#111" stroke-width="0.3">0</text>
<line x1="393.5" y1="541.58" x2="397.7" y2="541.58" stroke="#111" stroke-width="1.5"/>
<line x1="391.1" y1="534.46" x2="397.7" y2="534.46" stroke="#111" stroke-width="1.5"/>
<line x1="393.5" y1="527.34" x2="397.7" y2="527.34" stroke="#111" stroke-width="1.5"/>
<line x1="391.1" y1="520.22" x2="397.7" y2="520.22" stroke="#111" stroke-width="1.5"/>
<text x="389.75" y="524.11" font-size="14" text-anchor="end" fill="#111" stroke="#111" stroke-width="0.3">20</text>
<line x1="393.5" y1="513.1" x2="397.7" y2="513.1" stroke="#111" stroke-width="1.5"/>
<line x1="391.1" y1="505.98" x2="397.7" y2="505.98" stroke="#111" stroke-width="1.5"/>
<line x1="393.5" y1="498.86" x2="397.7" y2="498.86" stroke="#111" stroke-width="1.5"/>
<line x1="391.1" y1="491.74" x2="397.7" y2="491.74" stroke="#111" stroke-width="1.5"/>
<text x="389.75" y="495.63" font-size="14" text-anchor="end" fill="#111" stroke="#111" stroke-width="0.3">40</text>
<line x1="393.5" y1="484.62" x2="397.7" y2="484.62" stroke="#111" stroke-width="1.5"/>
<line x1="391.1" y1="477.5" x2="397.7" y2="477.5" stroke="#111" stroke-width="1.5"/>
<line x1="393.5" y1="470.38" x2="397.7" y2="470.38" stroke="#111" stroke-width="1.5"/>
<line x1="391.1" y1="463.26" x2="397.7" y2="463.26" stroke="#111" stroke-width="1.5"/>
<text x="389.75" y="467.15" font-size="14" text-anchor="end" fill="#111" stroke="#111" stroke-width="0.3">60</text>
<line x1="393.5" y1="456.14" x2="397.7" y2="456.14" stroke="#111" stroke-width="1.5"/>
<line x1="391.1" y1="449.02" x2="397.7" y2="449.02" stroke="#111" stroke-width="1.5"/>
<line x1="393.5" y1="441.9" x2="397.7" y2="441.9" stroke="#111" stroke-width="1.5"/>
<line x1="391.1" y1="434.78" x2="397.7" y2="434.78" stroke="#111" stroke-width="1.5"/>
<text x="389.75" y="438.67" font-size="14" text-anchor="end" fill="#111" stroke="#111" stroke-width="0.3">80</text>
<line x1="393.5" y1="427.66" x2="397.7" y2="427.66" stroke="#111" stroke-width="1.5"/>
<line x1="391.1" y1="420.54" x2="397.7" y2="420.54" stroke="#111" stroke-width="1.5"/>
<line x1="393.5" y1="413.42" x2="397.7" y2="413.42" stroke="#111" stroke-width="1.5"/>
<line x1="391.1" y1="406.3" x2="397.7" y2="406.3" stroke="#111" stroke-width="1.5"/>
<text x="389.75" y="410.19" font-size="14" text-anchor="end" fill="#111" stroke="#111" stroke-width="0.3">100</text>
<circle cx="410.9" cy="548.7" r="2.15" fill="#fde0e0" stroke="#111" stroke-width="1.3" />
<circle cx="414.6" cy="548.7" r="2.15" fill="#fde0e0" stroke="#111" stroke-width="1.3" />
<circle cx="417.8" cy="548.7" r="2.15" fill="#fde0e0" stroke="#111" stroke-width="1.3" />
<circle cx="421.1" cy="548.7" r="2.15" fill="#fde0e0" stroke="#111" stroke-width="1.3" />
<circle cx="424.6" cy="548.7" r="2.15" fill="#fde0e0" stroke="#111" stroke-width="1.3" />
<circle cx="427.9" cy="548.7" r="2.15" fill="#fde0e0" stroke="#111" stroke-width="1.3" />
<circle cx="452.25" cy="478.07" r="2.15" fill="#fff" stroke="#111" stroke-width="1.3" />
<circle cx="447.45" cy="483.34" r="2.15" fill="#fff" stroke="#111" stroke-width="1.3" />
<circle cx="457.15" cy="483.34" r="2.15" fill="#fff" stroke="#111" stroke-width="1.3" />
<circle cx="447.45" cy="516.09" r="2.15" fill="#fde0e0" stroke="#111" stroke-width="1.3" />
<circle cx="457.15" cy="516.09" r="2.15" fill="#fde0e0" stroke="#111" stroke-width="1.3" />
<circle cx="452.25" cy="525.2" r="2.15" fill="#fde0e0" stroke="#111" stroke-width="1.3" />
<circle cx="484.8" cy="471.52" r="2.15" fill="#fff" stroke="#111" stroke-width="1.3" />
<circle cx="480.3" cy="484.19" r="2.15" fill="#fff" stroke="#111" stroke-width="1.3" />
<circle cx="489.4" cy="488.04" r="2.15" fill="#fff" stroke="#111" stroke-width="1.3" />
<circle cx="480.3" cy="509.97" r="2.15" fill="#fde0e0" stroke="#111" stroke-width="1.3" />
<circle cx="489.4" cy="509.97" r="2.15" fill="#fde0e0" stroke="#111" stroke-width="1.3" />
<circle cx="484.8" cy="518.8" r="2.15" fill="#fde0e0" stroke="#111" stroke-width="1.3" />
<text x="451.9" y="392.9" font-size="13.6" text-anchor="middle" fill="#111" stroke="#111" stroke-width="0.3">HCT-15</text>
<text x="363.6" y="478" font-size="11" text-anchor="middle" fill="#111" transform="rotate(-90 363.6 478)" stroke="#111" stroke-width="0.3">Percent of cells</text>
<text x="419.5" y="562.6" font-size="11.2" text-anchor="middle" fill="#111" stroke="#111" stroke-width="0.3">DMSO</text>
<text x="452.3" y="562.6" font-size="11.2" text-anchor="middle" fill="#111" stroke="#111" stroke-width="0.3">ICI</text>
<text x="485.2" y="562.6" font-size="11.2" text-anchor="middle" fill="#111" stroke="#111" stroke-width="0.3">Tam</text>
<rect x="408.9" y="403.6" width="11.4" height="5.35" fill="#c4c4c4" />
<rect x="408.9" y="408.95" width="11.4" height="5.35" fill="#e67a0e" />
<rect x="408.9" y="414.3" width="11.4" height="5.35" fill="#7a4516" />
<line x1="408.9" y1="408.95" x2="420.3" y2="408.95" stroke="#111" stroke-width="1"/>
<line x1="408.9" y1="414.3" x2="420.3" y2="414.3" stroke="#111" stroke-width="1"/>
<rect x="408.9" y="403.6" width="11.4" height="16.05" fill="none" stroke="#111" stroke-width="1.15" />
<text x="428.1" y="414.1" font-size="11.2" fill="#111" stroke="#111" stroke-width="0.3">ENL CTN2</text>
<rect x="408.9" y="422.8" width="11.4" height="5.6" fill="#fde0e0" stroke="#111" stroke-width="1.15" />
<text x="428.1" y="429" font-size="11.2" fill="#111" stroke="#111" stroke-width="0.3">P-ENL CTN2</text>
<rect x="614.4" y="478.28" width="21.6" height="70.62" fill="#f8b128" stroke="#111" stroke-width="1.4" />
<rect x="614.4" y="517.35" width="21.6" height="31.55" fill="#fde0e0" stroke="#111" stroke-width="1.4" />
<line x1="625.2" y1="501.72" x2="625.2" y2="453.69" stroke="#111" stroke-width="1.35"/>
<line x1="619.8" y1="501.72" x2="630.6" y2="501.72" stroke="#111" stroke-width="1.35"/>
<line x1="619.8" y1="453.69" x2="630.6" y2="453.69" stroke="#111" stroke-width="1.35"/>
<line x1="625.2" y1="538.67" x2="625.2" y2="518.35" stroke="#111" stroke-width="1.35"/>
<line x1="620.2" y1="538.67" x2="630.2" y2="538.67" stroke="#111" stroke-width="1.35"/>
<text transform="translate(625.2 546.6) scale(0.86 1)" font-size="7.5" text-anchor="middle" fill="#111" stroke="#111" stroke-width="0.15">42%</text>
<rect x="647" y="489.22" width="21.5" height="59.68" fill="#6a2191" stroke="#111" stroke-width="1.4" />
<rect x="647" y="521.19" width="21.5" height="27.71" fill="#fde0e0" stroke="#111" stroke-width="1.4" />
<line x1="657.75" y1="503.57" x2="657.75" y2="474.16" stroke="#111" stroke-width="1.35"/>
<line x1="652.55" y1="503.57" x2="662.95" y2="503.57" stroke="#111" stroke-width="1.35"/>
<line x1="652.55" y1="474.16" x2="662.95" y2="474.16" stroke="#111" stroke-width="1.35"/>
<line x1="657.75" y1="531.14" x2="657.75" y2="509.82" stroke="#111" stroke-width="1.35"/>
<line x1="652.55" y1="531.14" x2="662.95" y2="531.14" stroke="#111" stroke-width="1.35"/>
<line x1="652.55" y1="509.82" x2="662.95" y2="509.82" stroke="#111" stroke-width="1.35"/>
<text transform="translate(657.75 546.6) scale(0.86 1)" font-size="7.5" text-anchor="middle" fill="#111" stroke="#111" stroke-width="0.15">48%</text>
<line x1="570.7" y1="406.05" x2="570.7" y2="549.65" stroke="#111" stroke-width="1.5"/>
<line x1="569.95" y1="548.9" x2="679.7" y2="548.9" stroke="#111" stroke-width="1.5"/>
<line x1="564.1" y1="548.9" x2="570.7" y2="548.9" stroke="#111" stroke-width="1.5"/>
<text x="562.75" y="552.79" font-size="14" text-anchor="end" fill="#111" stroke="#111" stroke-width="0.3">0</text>
<line x1="566.5" y1="541.79" x2="570.7" y2="541.79" stroke="#111" stroke-width="1.5"/>
<line x1="564.1" y1="534.69" x2="570.7" y2="534.69" stroke="#111" stroke-width="1.5"/>
<line x1="566.5" y1="527.58" x2="570.7" y2="527.58" stroke="#111" stroke-width="1.5"/>
<line x1="564.1" y1="520.48" x2="570.7" y2="520.48" stroke="#111" stroke-width="1.5"/>
<text x="562.75" y="524.37" font-size="14" text-anchor="end" fill="#111" stroke="#111" stroke-width="0.3">20</text>
<line x1="566.5" y1="513.38" x2="570.7" y2="513.38" stroke="#111" stroke-width="1.5"/>
<line x1="564.1" y1="506.27" x2="570.7" y2="506.27" stroke="#111" stroke-width="1.5"/>
<line x1="566.5" y1="499.16" x2="570.7" y2="499.16" stroke="#111" stroke-width="1.5"/>
<line x1="564.1" y1="492.06" x2="570.7" y2="492.06" stroke="#111" stroke-width="1.5"/>
<text x="562.75" y="495.95" font-size="14" text-anchor="end" fill="#111" stroke="#111" stroke-width="0.3">40</text>
<line x1="566.5" y1="484.95" x2="570.7" y2="484.95" stroke="#111" stroke-width="1.5"/>
<line x1="564.1" y1="477.85" x2="570.7" y2="477.85" stroke="#111" stroke-width="1.5"/>
<line x1="566.5" y1="470.75" x2="570.7" y2="470.75" stroke="#111" stroke-width="1.5"/>
<line x1="564.1" y1="463.64" x2="570.7" y2="463.64" stroke="#111" stroke-width="1.5"/>
<text x="562.75" y="467.53" font-size="14" text-anchor="end" fill="#111" stroke="#111" stroke-width="0.3">60</text>
<line x1="566.5" y1="456.53" x2="570.7" y2="456.53" stroke="#111" stroke-width="1.5"/>
<line x1="564.1" y1="449.43" x2="570.7" y2="449.43" stroke="#111" stroke-width="1.5"/>
<line x1="566.5" y1="442.32" x2="570.7" y2="442.32" stroke="#111" stroke-width="1.5"/>
<line x1="564.1" y1="435.22" x2="570.7" y2="435.22" stroke="#111" stroke-width="1.5"/>
<text x="562.75" y="439.11" font-size="14" text-anchor="end" fill="#111" stroke="#111" stroke-width="0.3">80</text>
<line x1="566.5" y1="428.12" x2="570.7" y2="428.12" stroke="#111" stroke-width="1.5"/>
<line x1="564.1" y1="421.01" x2="570.7" y2="421.01" stroke="#111" stroke-width="1.5"/>
<line x1="566.5" y1="413.9" x2="570.7" y2="413.9" stroke="#111" stroke-width="1.5"/>
<line x1="564.1" y1="406.8" x2="570.7" y2="406.8" stroke="#111" stroke-width="1.5"/>
<text x="562.75" y="410.69" font-size="14" text-anchor="end" fill="#111" stroke="#111" stroke-width="0.3">100</text>
<circle cx="583.5" cy="548.9" r="2.15" fill="#fde0e0" stroke="#111" stroke-width="1.3" />
<circle cx="587.3" cy="548.9" r="2.15" fill="#fde0e0" stroke="#111" stroke-width="1.3" />
<circle cx="591.1" cy="548.9" r="2.15" fill="#fde0e0" stroke="#111" stroke-width="1.3" />
<circle cx="594.5" cy="548.9" r="2.15" fill="#fde0e0" stroke="#111" stroke-width="1.3" />
<circle cx="600.5" cy="548.9" r="2.15" fill="#fff" stroke="#111" stroke-width="1.3" />
<circle cx="625.6" cy="450.85" r="2.15" fill="#fff" stroke="#111" stroke-width="1.3" />
<circle cx="625.6" cy="487.8" r="2.15" fill="#fff" stroke="#111" stroke-width="1.3" />
<circle cx="620.5" cy="494.9" r="2.15" fill="#fff" stroke="#111" stroke-width="1.3" />
<circle cx="630.3" cy="494.05" r="2.15" fill="#fff" stroke="#111" stroke-width="1.3" />
<circle cx="625.2" cy="518.35" r="2.15" fill="#fde0e0" stroke="#111" stroke-width="1.3" />
<circle cx="625.2" cy="538.24" r="2.15" fill="#fde0e0" stroke="#111" stroke-width="1.3" />
<circle cx="657.85" cy="472.59" r="2.15" fill="#fff" stroke="#111" stroke-width="1.3" />
<circle cx="653.05" cy="495.33" r="2.15" fill="#fff" stroke="#111" stroke-width="1.3" />
<circle cx="662.55" cy="499.73" r="2.15" fill="#fff" stroke="#111" stroke-width="1.3" />
<circle cx="653.05" cy="512.52" r="2.15" fill="#fde0e0" stroke="#111" stroke-width="1.3" />
<circle cx="662.55" cy="516.22" r="2.15" fill="#fde0e0" stroke="#111" stroke-width="1.3" />
<circle cx="657.85" cy="532.98" r="2.15" fill="#fde0e0" stroke="#111" stroke-width="1.3" />
<text x="624.8" y="392.9" font-size="13.6" text-anchor="middle" fill="#111" stroke="#111" stroke-width="0.3">HCT-15</text>
<text x="537.8" y="478" font-size="11" text-anchor="middle" fill="#111" transform="rotate(-90 537.8 478)" stroke="#111" stroke-width="0.3">Percent of cells</text>
<text x="592" y="562.4" font-size="11.2" text-anchor="middle" fill="#111" stroke="#111" stroke-width="0.3">DMSO</text>
<text x="623.4" y="562.4" font-size="11.2" text-anchor="middle" fill="#111" stroke="#111" stroke-width="0.3">FSK</text>
<text x="661" y="562.4" font-size="11.2" text-anchor="middle" fill="#111" stroke="#111" stroke-width="0.3">8-Bromo</text>
<text x="661.2" y="575.7" font-size="11.2" text-anchor="middle" fill="#111" stroke="#111" stroke-width="0.3">cAMP</text>
<rect x="580.2" y="406.1" width="11.8" height="4.95" fill="#c4c4c4" />
<rect x="580.2" y="411.05" width="11.8" height="4.95" fill="#f8b128" />
<rect x="580.2" y="416" width="11.8" height="4.95" fill="#6a2191" />
<line x1="580.2" y1="411.05" x2="592" y2="411.05" stroke="#111" stroke-width="1"/>
<line x1="580.2" y1="416" x2="592" y2="416" stroke="#111" stroke-width="1"/>
<rect x="580.2" y="406.1" width="11.8" height="14.85" fill="none" stroke="#111" stroke-width="1.15" />
<text x="600" y="417.2" font-size="11.2" fill="#111" stroke="#111" stroke-width="0.3">ENL CTN2</text>
<rect x="580.2" y="425.4" width="11.8" height="5.5" fill="#fde0e0" stroke="#111" stroke-width="1.15" />
<text x="600" y="430.9" font-size="11.2" fill="#111" stroke="#111" stroke-width="0.3">P-ENL CTN2</text>
<rect x="51.2" y="695.43" width="20.2" height="115.97" fill="#5cbf4f" stroke="#111" stroke-width="1.4" />
<line x1="61.3" y1="701.97" x2="61.3" y2="688.66" stroke="#111" stroke-width="1.35"/>
<line x1="55.9" y1="701.97" x2="66.7" y2="701.97" stroke="#111" stroke-width="1.35"/>
<line x1="55.9" y1="688.66" x2="66.7" y2="688.66" stroke="#111" stroke-width="1.35"/>
<rect x="80.6" y="701.49" width="19.8" height="109.91" fill="#ee92ee" stroke="#111" stroke-width="1.4" />
<line x1="90.5" y1="713.59" x2="90.5" y2="689.38" stroke="#111" stroke-width="1.35"/>
<line x1="85.2" y1="713.59" x2="95.8" y2="713.59" stroke="#111" stroke-width="1.35"/>
<line x1="85.2" y1="689.38" x2="95.8" y2="689.38" stroke="#111" stroke-width="1.35"/>
<line x1="42" y1="665.39" x2="42" y2="812.15" stroke="#111" stroke-width="1.5"/>
<line x1="41.25" y1="811.4" x2="107.7" y2="811.4" stroke="#111" stroke-width="1.5"/>
<line x1="35.5" y1="811.4" x2="42" y2="811.4" stroke="#111" stroke-width="1.5"/>
<text x="34.3" y="816.03" font-size="15.2" text-anchor="end" fill="#111" stroke="#111" stroke-width="0.3">0</text>
<line x1="38.8" y1="799.29" x2="42" y2="799.29" stroke="#111" stroke-width="1.5"/>
<line x1="35.5" y1="787.19" x2="42" y2="787.19" stroke="#111" stroke-width="1.5"/>
<text x="34.3" y="791.82" font-size="15.2" text-anchor="end" fill="#111" stroke="#111" stroke-width="0.3">10</text>
<line x1="38.8" y1="775.09" x2="42" y2="775.09" stroke="#111" stroke-width="1.5"/>
<line x1="35.5" y1="762.98" x2="42" y2="762.98" stroke="#111" stroke-width="1.5"/>
<text x="34.3" y="767.61" font-size="15.2" text-anchor="end" fill="#111" stroke="#111" stroke-width="0.3">20</text>
<line x1="38.8" y1="750.88" x2="42" y2="750.88" stroke="#111" stroke-width="1.5"/>
<line x1="35.5" y1="738.77" x2="42" y2="738.77" stroke="#111" stroke-width="1.5"/>
<text x="34.3" y="743.4" font-size="15.2" text-anchor="end" fill="#111" stroke="#111" stroke-width="0.3">30</text>
<line x1="38.8" y1="726.66" x2="42" y2="726.66" stroke="#111" stroke-width="1.5"/>
<line x1="35.5" y1="714.56" x2="42" y2="714.56" stroke="#111" stroke-width="1.5"/>
<text x="34.3" y="719.19" font-size="15.2" text-anchor="end" fill="#111" stroke="#111" stroke-width="0.3">40</text>
<line x1="38.8" y1="702.45" x2="42" y2="702.45" stroke="#111" stroke-width="1.5"/>
<line x1="35.5" y1="690.35" x2="42" y2="690.35" stroke="#111" stroke-width="1.5"/>
<text x="34.3" y="694.98" font-size="15.2" text-anchor="end" fill="#111" stroke="#111" stroke-width="0.3">50</text>
<line x1="38.8" y1="678.25" x2="42" y2="678.25" stroke="#111" stroke-width="1.5"/>
<line x1="35.5" y1="666.14" x2="42" y2="666.14" stroke="#111" stroke-width="1.5"/>
<text x="34.3" y="670.77" font-size="15.2" text-anchor="end" fill="#111" stroke="#111" stroke-width="0.3">60</text>
<circle cx="61" cy="685.99" r="1.85" fill="#fff" stroke="#111" stroke-width="1.3" />
<circle cx="61" cy="695.92" r="1.85" fill="#fff" stroke="#111" stroke-width="1.3" />
<circle cx="58.7" cy="701.24" r="1.85" fill="#fff" stroke="#111" stroke-width="1.3" />
<circle cx="63.4" cy="701.24" r="1.85" fill="#fff" stroke="#111" stroke-width="1.3" />
<circle cx="90.2" cy="685.99" r="1.85" fill="#fff" stroke="#111" stroke-width="1.3" />
<circle cx="90.2" cy="701.24" r="1.85" fill="#fff" stroke="#111" stroke-width="1.3" />
<circle cx="90.2" cy="705.6" r="1.85" fill="#fff" stroke="#111" stroke-width="1.3" />
<circle cx="90.2" cy="715.29" r="1.85" fill="#fff" stroke="#111" stroke-width="1.3" />
<text x="74.6" y="625.7" font-size="13.6" text-anchor="middle" fill="#111" stroke="#111" stroke-width="0.3">HCT116</text>
<text x="11.5" y="739" font-size="11" text-anchor="middle" fill="#111" transform="rotate(-90 11.5 739)" stroke="#111" stroke-width="0.3">Percent of cells</text>
<rect x="43" y="636.8" width="10.4" height="4.75" fill="#5cbf4f" />
<rect x="43" y="641.55" width="10.4" height="4.75" fill="#ee92ee" />
<line x1="43" y1="641.55" x2="53.4" y2="641.55" stroke="#111" stroke-width="1"/>
<rect x="43" y="636.8" width="10.4" height="9.5" fill="none" stroke="#111" stroke-width="1.15" />
<text x="57.8" y="644.9" font-size="11.2" fill="#111" stroke="#111" stroke-width="0.3">ENL CTN2</text>
<rect x="165.8" y="698.61" width="19.8" height="115.19" fill="#5cbf4f" stroke="#111" stroke-width="1.4" />
<line x1="175.7" y1="703.95" x2="175.7" y2="694.49" stroke="#111" stroke-width="1.35"/>
<line x1="170.6" y1="703.95" x2="180.8" y2="703.95" stroke="#111" stroke-width="1.35"/>
<line x1="170.6" y1="694.49" x2="180.8" y2="694.49" stroke="#111" stroke-width="1.35"/>
<rect x="194.7" y="709.77" width="20.2" height="104.03" fill="#ee92ee" stroke="#111" stroke-width="1.4" />
<line x1="204.8" y1="722.38" x2="204.8" y2="697.16" stroke="#111" stroke-width="1.35"/>
<line x1="199.7" y1="722.38" x2="209.9" y2="722.38" stroke="#111" stroke-width="1.35"/>
<line x1="199.7" y1="697.16" x2="209.9" y2="697.16" stroke="#111" stroke-width="1.35"/>
<line x1="156.5" y1="667.55" x2="156.5" y2="814.55" stroke="#111" stroke-width="1.5"/>
<line x1="155.75" y1="813.8" x2="222.4" y2="813.8" stroke="#111" stroke-width="1.5"/>
<line x1="150" y1="813.8" x2="156.5" y2="813.8" stroke="#111" stroke-width="1.5"/>
<text x="148.8" y="818.43" font-size="15.2" text-anchor="end" fill="#111" stroke="#111" stroke-width="0.3">0</text>
<line x1="153.3" y1="801.67" x2="156.5" y2="801.67" stroke="#111" stroke-width="1.5"/>
<line x1="150" y1="789.55" x2="156.5" y2="789.55" stroke="#111" stroke-width="1.5"/>
<text x="148.8" y="794.18" font-size="15.2" text-anchor="end" fill="#111" stroke="#111" stroke-width="0.3">10</text>
<line x1="153.3" y1="777.42" x2="156.5" y2="777.42" stroke="#111" stroke-width="1.5"/>
<line x1="150" y1="765.3" x2="156.5" y2="765.3" stroke="#111" stroke-width="1.5"/>
<text x="148.8" y="769.93" font-size="15.2" text-anchor="end" fill="#111" stroke="#111" stroke-width="0.3">20</text>
<line x1="153.3" y1="753.17" x2="156.5" y2="753.17" stroke="#111" stroke-width="1.5"/>
<line x1="150" y1="741.05" x2="156.5" y2="741.05" stroke="#111" stroke-width="1.5"/>
<text x="148.8" y="745.68" font-size="15.2" text-anchor="end" fill="#111" stroke="#111" stroke-width="0.3">30</text>
<line x1="153.3" y1="728.92" x2="156.5" y2="728.92" stroke="#111" stroke-width="1.5"/>
<line x1="150" y1="716.8" x2="156.5" y2="716.8" stroke="#111" stroke-width="1.5"/>
<text x="148.8" y="721.43" font-size="15.2" text-anchor="end" fill="#111" stroke="#111" stroke-width="0.3">40</text>
<line x1="153.3" y1="704.67" x2="156.5" y2="704.67" stroke="#111" stroke-width="1.5"/>
<line x1="150" y1="692.55" x2="156.5" y2="692.55" stroke="#111" stroke-width="1.5"/>
<text x="148.8" y="697.18" font-size="15.2" text-anchor="end" fill="#111" stroke="#111" stroke-width="0.3">50</text>
<line x1="153.3" y1="680.42" x2="156.5" y2="680.42" stroke="#111" stroke-width="1.5"/>
<line x1="150" y1="668.3" x2="156.5" y2="668.3" stroke="#111" stroke-width="1.5"/>
<text x="148.8" y="672.93" font-size="15.2" text-anchor="end" fill="#111" stroke="#111" stroke-width="0.3">60</text>
<circle cx="175.4" cy="692.79" r="1.85" fill="#fff" stroke="#111" stroke-width="1.3" />
<circle cx="175.4" cy="698.61" r="1.85" fill="#fff" stroke="#111" stroke-width="1.3" />
<circle cx="172.8" cy="702.74" r="1.85" fill="#fff" stroke="#111" stroke-width="1.3" />
<circle cx="178.4" cy="702.74" r="1.85" fill="#fff" stroke="#111" stroke-width="1.3" />
<circle cx="204.7" cy="697.4" r="1.85" fill="#fff" stroke="#111" stroke-width="1.3" />
<circle cx="204.7" cy="702.74" r="1.85" fill="#fff" stroke="#111" stroke-width="1.3" />
<circle cx="204.7" cy="711.95" r="1.85" fill="#fff" stroke="#111" stroke-width="1.3" />
<circle cx="204.7" cy="726.74" r="1.85" fill="#fff" stroke="#111" stroke-width="1.3" />
<text x="188.8" y="625.7" font-size="13.6" text-anchor="middle" fill="#111" stroke="#111" stroke-width="0.3">HCT-15</text>
<text x="127.9" y="741.5" font-size="11" text-anchor="middle" fill="#111" transform="rotate(-90 127.9 741.5)" stroke="#111" stroke-width="0.3">Percent of cells</text>
<rect x="158.3" y="636.6" width="10.6" height="4.8" fill="#5cbf4f" />
<rect x="158.3" y="641.4" width="10.6" height="4.8" fill="#ee92ee" />
<line x1="158.3" y1="641.4" x2="168.9" y2="641.4" stroke="#111" stroke-width="1"/>
<rect x="158.3" y="636.6" width="10.6" height="9.6" fill="none" stroke="#111" stroke-width="1.15" />
<text x="173.3" y="644.7" font-size="11.2" fill="#111" stroke="#111" stroke-width="0.3">ENL CTN2</text>
<rect x="497.9" y="710.4" width="16.5" height="99.1" fill="#f12a10" stroke="#111" stroke-width="1.4" />
<line x1="506.15" y1="720.27" x2="506.15" y2="701.25" stroke="#111" stroke-width="1.35"/>
<line x1="499.15" y1="720.27" x2="513.15" y2="720.27" stroke="#111" stroke-width="1.35"/>
<line x1="499.15" y1="701.25" x2="513.15" y2="701.25" stroke="#111" stroke-width="1.35"/>
<rect x="530.7" y="698.39" width="16.5" height="111.11" fill="#f12a10" stroke="#111" stroke-width="1.4" />
<line x1="538.95" y1="708.97" x2="538.95" y2="687.95" stroke="#111" stroke-width="1.35"/>
<line x1="531.95" y1="708.97" x2="545.95" y2="708.97" stroke="#111" stroke-width="1.35"/>
<line x1="531.95" y1="687.95" x2="545.95" y2="687.95" stroke="#111" stroke-width="1.35"/>
<line x1="487.1" y1="665.75" x2="487.1" y2="810.25" stroke="#111" stroke-width="1.5"/>
<line x1="486.35" y1="809.5" x2="557.7" y2="809.5" stroke="#111" stroke-width="1.5"/>
<line x1="480.5" y1="809.5" x2="487.1" y2="809.5" stroke="#111" stroke-width="1.5"/>
<text x="478.5" y="813.17" font-size="13.2" text-anchor="end" fill="#111" stroke="#111" stroke-width="0.3">0</text>
<line x1="482.9" y1="802.35" x2="487.1" y2="802.35" stroke="#111" stroke-width="1.5"/>
<line x1="480.5" y1="795.2" x2="487.1" y2="795.2" stroke="#111" stroke-width="1.5"/>
<line x1="482.9" y1="788.05" x2="487.1" y2="788.05" stroke="#111" stroke-width="1.5"/>
<line x1="480.5" y1="780.9" x2="487.1" y2="780.9" stroke="#111" stroke-width="1.5"/>
<text x="478.5" y="784.57" font-size="13.2" text-anchor="end" fill="#111" stroke="#111" stroke-width="0.3">20</text>
<line x1="482.9" y1="773.75" x2="487.1" y2="773.75" stroke="#111" stroke-width="1.5"/>
<line x1="480.5" y1="766.6" x2="487.1" y2="766.6" stroke="#111" stroke-width="1.5"/>
<line x1="482.9" y1="759.45" x2="487.1" y2="759.45" stroke="#111" stroke-width="1.5"/>
<line x1="480.5" y1="752.3" x2="487.1" y2="752.3" stroke="#111" stroke-width="1.5"/>
<text x="478.5" y="755.97" font-size="13.2" text-anchor="end" fill="#111" stroke="#111" stroke-width="0.3">40</text>
<line x1="482.9" y1="745.15" x2="487.1" y2="745.15" stroke="#111" stroke-width="1.5"/>
<line x1="480.5" y1="738" x2="487.1" y2="738" stroke="#111" stroke-width="1.5"/>
<line x1="482.9" y1="730.85" x2="487.1" y2="730.85" stroke="#111" stroke-width="1.5"/>
<line x1="480.5" y1="723.7" x2="487.1" y2="723.7" stroke="#111" stroke-width="1.5"/>
<text x="478.5" y="727.37" font-size="13.2" text-anchor="end" fill="#111" stroke="#111" stroke-width="0.3">60</text>
<line x1="482.9" y1="716.55" x2="487.1" y2="716.55" stroke="#111" stroke-width="1.5"/>
<line x1="480.5" y1="709.4" x2="487.1" y2="709.4" stroke="#111" stroke-width="1.5"/>
<line x1="482.9" y1="702.25" x2="487.1" y2="702.25" stroke="#111" stroke-width="1.5"/>
<line x1="480.5" y1="695.1" x2="487.1" y2="695.1" stroke="#111" stroke-width="1.5"/>
<text x="478.5" y="698.77" font-size="13.2" text-anchor="end" fill="#111" stroke="#111" stroke-width="0.3">80</text>
<line x1="482.9" y1="687.95" x2="487.1" y2="687.95" stroke="#111" stroke-width="1.5"/>
<line x1="480.5" y1="680.8" x2="487.1" y2="680.8" stroke="#111" stroke-width="1.5"/>
<line x1="482.9" y1="673.65" x2="487.1" y2="673.65" stroke="#111" stroke-width="1.5"/>
<line x1="480.5" y1="666.5" x2="487.1" y2="666.5" stroke="#111" stroke-width="1.5"/>
<text x="478.5" y="670.17" font-size="13.2" text-anchor="end" fill="#111" stroke="#111" stroke-width="0.3">100</text>
<circle cx="505.95" cy="702.82" r="2.1" fill="#fff" stroke="#111" stroke-width="1.3" />
<circle cx="505.95" cy="708.97" r="2.1" fill="#fff" stroke="#111" stroke-width="1.3" />
<circle cx="505.95" cy="721.27" r="2.1" fill="#fff" stroke="#111" stroke-width="1.3" />
<circle cx="538.75" cy="687.66" r="2.1" fill="#fff" stroke="#111" stroke-width="1.3" />
<circle cx="538.75" cy="700.25" r="2.1" fill="#fff" stroke="#111" stroke-width="1.3" />
<circle cx="538.75" cy="708.26" r="2.1" fill="#fff" stroke="#111" stroke-width="1.3" />
<text x="521.8" y="633.9" font-size="13.6" text-anchor="middle" fill="#111" stroke="#111" stroke-width="0.3">HCT116</text>
<text x="452.5" y="741" font-size="11" text-anchor="middle" fill="#111" transform="rotate(-90 452.5 741)" stroke="#111" stroke-width="0.3">Percent of cells</text>
<rect x="624.9" y="720.36" width="15.8" height="88.64" fill="#f12a10" stroke="#111" stroke-width="1.4" />
<line x1="632.8" y1="753.78" x2="632.8" y2="686.59" stroke="#111" stroke-width="1.35"/>
<line x1="625.2" y1="753.78" x2="640.4" y2="753.78" stroke="#111" stroke-width="1.35"/>
<line x1="625.2" y1="686.59" x2="640.4" y2="686.59" stroke="#111" stroke-width="1.35"/>
<rect x="655.2" y="788.6" width="16.1" height="20.4" fill="#f12a10" stroke="#111" stroke-width="1.4" />
<line x1="663.25" y1="806.19" x2="663.25" y2="771.01" stroke="#111" stroke-width="1.35"/>
<line x1="656.25" y1="806.19" x2="670.25" y2="806.19" stroke="#111" stroke-width="1.35"/>
<line x1="656.25" y1="771.01" x2="670.25" y2="771.01" stroke="#111" stroke-width="1.35"/>
<line x1="612.7" y1="667.55" x2="612.7" y2="809.75" stroke="#111" stroke-width="1.5"/>
<line x1="611.95" y1="809" x2="686" y2="809" stroke="#111" stroke-width="1.5"/>
<line x1="605.7" y1="809" x2="612.7" y2="809" stroke="#111" stroke-width="1.5"/>
<text x="604.7" y="812.34" font-size="12" text-anchor="end" fill="#111" stroke="#111" stroke-width="0.3">0</text>
<line x1="609.5" y1="801.97" x2="612.7" y2="801.97" stroke="#111" stroke-width="1.5"/>
<line x1="605.7" y1="794.93" x2="612.7" y2="794.93" stroke="#111" stroke-width="1.5"/>
<text x="604.7" y="798.27" font-size="12" text-anchor="end" fill="#111" stroke="#111" stroke-width="0.3">2</text>
<line x1="609.5" y1="787.89" x2="612.7" y2="787.89" stroke="#111" stroke-width="1.5"/>
<line x1="605.7" y1="780.86" x2="612.7" y2="780.86" stroke="#111" stroke-width="1.5"/>
<text x="604.7" y="784.2" font-size="12" text-anchor="end" fill="#111" stroke="#111" stroke-width="0.3">4</text>
<line x1="609.5" y1="773.83" x2="612.7" y2="773.83" stroke="#111" stroke-width="1.5"/>
<line x1="605.7" y1="766.79" x2="612.7" y2="766.79" stroke="#111" stroke-width="1.5"/>
<text x="604.7" y="770.13" font-size="12" text-anchor="end" fill="#111" stroke="#111" stroke-width="0.3">6</text>
<line x1="609.5" y1="759.75" x2="612.7" y2="759.75" stroke="#111" stroke-width="1.5"/>
<line x1="605.7" y1="752.72" x2="612.7" y2="752.72" stroke="#111" stroke-width="1.5"/>
<text x="604.7" y="756.06" font-size="12" text-anchor="end" fill="#111" stroke="#111" stroke-width="0.3">8</text>
<line x1="609.5" y1="745.68" x2="612.7" y2="745.68" stroke="#111" stroke-width="1.5"/>
<line x1="605.7" y1="738.65" x2="612.7" y2="738.65" stroke="#111" stroke-width="1.5"/>
<text x="604.7" y="741.99" font-size="12" text-anchor="end" fill="#111" stroke="#111" stroke-width="0.3">10</text>
<line x1="609.5" y1="731.62" x2="612.7" y2="731.62" stroke="#111" stroke-width="1.5"/>
<line x1="605.7" y1="724.58" x2="612.7" y2="724.58" stroke="#111" stroke-width="1.5"/>
<text x="604.7" y="727.92" font-size="12" text-anchor="end" fill="#111" stroke="#111" stroke-width="0.3">12</text>
<line x1="609.5" y1="717.54" x2="612.7" y2="717.54" stroke="#111" stroke-width="1.5"/>
<line x1="605.7" y1="710.51" x2="612.7" y2="710.51" stroke="#111" stroke-width="1.5"/>
<text x="604.7" y="713.85" font-size="12" text-anchor="end" fill="#111" stroke="#111" stroke-width="0.3">14</text>
<line x1="609.5" y1="703.48" x2="612.7" y2="703.48" stroke="#111" stroke-width="1.5"/>
<line x1="605.7" y1="696.44" x2="612.7" y2="696.44" stroke="#111" stroke-width="1.5"/>
<text x="604.7" y="699.78" font-size="12" text-anchor="end" fill="#111" stroke="#111" stroke-width="0.3">16</text>
<line x1="609.5" y1="689.4" x2="612.7" y2="689.4" stroke="#111" stroke-width="1.5"/>
<line x1="605.7" y1="682.37" x2="612.7" y2="682.37" stroke="#111" stroke-width="1.5"/>
<text x="604.7" y="685.71" font-size="12" text-anchor="end" fill="#111" stroke="#111" stroke-width="0.3">18</text>
<line x1="609.5" y1="675.34" x2="612.7" y2="675.34" stroke="#111" stroke-width="1.5"/>
<line x1="605.7" y1="668.3" x2="612.7" y2="668.3" stroke="#111" stroke-width="1.5"/>
<text x="604.7" y="671.64" font-size="12" text-anchor="end" fill="#111" stroke="#111" stroke-width="0.3">20</text>
<circle cx="632.8" cy="681.67" r="2.05" fill="#fff" stroke="#111" stroke-width="1.3" />
<circle cx="628.4" cy="740.76" r="2.05" fill="#fff" stroke="#111" stroke-width="1.3" />
<circle cx="636.8" cy="738.65" r="2.05" fill="#fff" stroke="#111" stroke-width="1.3" />
<circle cx="663.15" cy="775.23" r="2.05" fill="#fff" stroke="#111" stroke-width="1.3" />
<circle cx="663.15" cy="782.97" r="2.05" fill="#fff" stroke="#111" stroke-width="1.3" />
<circle cx="663.15" cy="809" r="2.05" fill="#fff" stroke="#111" stroke-width="1.3" />
<text x="642.4" y="631.8" font-size="13.6" text-anchor="middle" fill="#111" stroke="#111" stroke-width="0.3">HCT116</text>
<text x="584.9" y="738" font-size="11.5" text-anchor="middle" fill="#111" transform="rotate(-90 584.9 738)" stroke="#111" stroke-width="0.3">Extra centrosomes (%)</text>
<defs>
<filter id="nuc" x="-20%" y="-20%" width="140%" height="140%" color-interpolation-filters="sRGB">
 <feGaussianBlur in="SourceGraphic" stdDeviation="2.0" result="b"/>
 <feTurbulence type="fractalNoise" baseFrequency="0.11" numOctaves="3" seed="7" result="n"/>
 <feColorMatrix in="n" type="matrix" values="0 0 1.9 0 -0.22  0 0 1.9 0 -0.22  0 0 1.9 0 -0.22  0 0 0 0 1" result="n2"/>
 <feComposite in="b" in2="n2" operator="arithmetic" k1="0.72" k2="0.3" k3="0" k4="0"/>
</filter>
<filter id="nuc2" x="-20%" y="-20%" width="140%" height="140%" color-interpolation-filters="sRGB">
 <feGaussianBlur in="SourceGraphic" stdDeviation="3.2" result="b"/>
 <feTurbulence type="fractalNoise" baseFrequency="0.13" numOctaves="3" seed="11" result="n"/>
 <feColorMatrix in="n" type="matrix" values="0 0 1.9 0 -0.22  0 0 1.9 0 -0.22  0 0 1.9 0 -0.22  0 0 0 0 1" result="n2"/>
 <feComposite in="b" in2="n2" operator="arithmetic" k1="0.72" k2="0.3" k3="0" k4="0"/>
</filter>
<filter id="nuc3" x="-20%" y="-20%" width="140%" height="140%" color-interpolation-filters="sRGB">
 <feGaussianBlur in="SourceGraphic" stdDeviation="2.0" result="b"/>
 <feTurbulence type="fractalNoise" baseFrequency="0.08" numOctaves="2" seed="5" result="n"/>
 <feColorMatrix in="n" type="matrix" values="0 0 1.9 0 -0.22  0 0 1.9 0 -0.22  0 0 1.9 0 -0.22  0 0 0 0 1" result="n2"/>
 <feComposite in="b" in2="n2" operator="arithmetic" k1="0.45" k2="0.62" k3="0" k4="0"/>
</filter>
<filter id="nuc4" x="-20%" y="-20%" width="140%" height="140%" color-interpolation-filters="sRGB">
 <feGaussianBlur in="SourceGraphic" stdDeviation="2.8" result="b"/>
 <feTurbulence type="fractalNoise" baseFrequency="0.1" numOctaves="2" seed="21" result="n"/>
 <feColorMatrix in="n" type="matrix" values="0 0 1.9 0 -0.22  0 0 1.9 0 -0.22  0 0 1.9 0 -0.22  0 0 0 0 1" result="n2"/>
 <feComposite in="b" in2="n2" operator="arithmetic" k1="0.5" k2="0.52" k3="0" k4="0"/>
</filter>
<filter id="bl" x="-60%" y="-60%" width="220%" height="220%"><feGaussianBlur stdDeviation="0.7"/></filter>
<filter id="bl2" x="-60%" y="-60%" width="220%" height="220%"><feGaussianBlur stdDeviation="1.1"/></filter>
<filter id="bl0" x="-60%" y="-60%" width="220%" height="220%"><feGaussianBlur stdDeviation="0.35"/></filter>
<radialGradient id="gN" cx="50%" cy="50%" r="50%">
 <stop offset="0" stop-color="#2018e2"/><stop offset="0.7" stop-color="#1c14d6"/><stop offset="0.9" stop-color="#100ca8"/><stop offset="1" stop-color="#060568"/>
</radialGradient>
<radialGradient id="gD" cx="50%" cy="50%" r="50%">
 <stop offset="0" stop-color="#1c18c8"/><stop offset="0.75" stop-color="#1410b0"/><stop offset="1" stop-color="#050458"/>
</radialGradient>
<radialGradient id="gB" cx="50%" cy="50%" r="50%">
 <stop offset="0" stop-color="#1c14ff"/><stop offset="0.75" stop-color="#1810f0"/><stop offset="0.93" stop-color="#100cc0"/><stop offset="1" stop-color="#060570"/>
</radialGradient>
<radialGradient id="gJ" cx="50%" cy="50%" r="50%">
 <stop offset="0" stop-color="#1a18c0"/><stop offset="0.6" stop-color="#1512a6"/><stop offset="1" stop-color="#06054e"/>
</radialGradient>
<radialGradient id="gK" cx="50%" cy="50%" r="50%">
 <stop offset="0" stop-color="#1e1ad8"/><stop offset="0.55" stop-color="#1814b8"/><stop offset="1" stop-color="#070658"/>
</radialGradient>
</defs>
<text x="0" y="12.3" font-size="16" font-weight="bold" fill="#000" stroke="#000" stroke-width="0.3">a</text>
<text x="349" y="12.1" font-size="16" font-weight="bold" fill="#000" stroke="#000" stroke-width="0.3">b</text>
<text x="0.3" y="163.7" font-size="16" font-weight="bold" fill="#000" stroke="#000" stroke-width="0.3">c</text>
<text x="180.6" y="163.4" font-size="16" font-weight="bold" fill="#000" stroke="#000" stroke-width="0.3">d</text>
<text x="520.6" y="164.7" font-size="16" font-weight="bold" fill="#000" stroke="#000" stroke-width="0.3">g</text>
<text x="0.3" y="385.3" font-size="16" font-weight="bold" fill="#000" stroke="#000" stroke-width="0.3">e</text>
<text x="180.1" y="385.4" font-size="16" font-weight="bold" fill="#000" stroke="#000" stroke-width="0.3">f</text>
<text x="520.8" y="385.9" font-size="16" font-weight="bold" fill="#000" stroke="#000" stroke-width="0.3">h</text>
<text x="0.3" y="615.1" font-size="16" font-weight="bold" fill="#000" stroke="#000" stroke-width="0.3">i</text>
<text x="238.2" y="593" font-size="16" font-weight="bold" fill="#000" stroke="#000" stroke-width="0.3">j</text>
<text x="453.5" y="614" font-size="16" font-weight="bold" fill="#000" stroke="#000" stroke-width="0.3">k</text>
<text x="579" y="613.9" font-size="16" font-weight="bold" fill="#000" stroke="#000" stroke-width="0.3">l</text>
<text x="17.1" y="24" font-size="13.7" fill="#111" stroke="#111" stroke-width="0.3">HCT116</text>
<text x="366.4" y="24" font-size="13.7" fill="#111" stroke="#111" stroke-width="0.3">HCT-15</text>
<text x="17.3" y="41.6" font-size="11" fill="#111" stroke="#111" stroke-width="0.3">G2: DMSO</text>
<rect x="16.4" y="45.5" width="87" height="87" fill="#000" />
<clipPath id="cp1"><rect x="16.4" y="45.5" width="87" height="87"/></clipPath>
<g clip-path="url(#cp1)">
<ellipse cx="62" cy="87.6" rx="35" ry="33.6" fill="url(#gN)" filter="url(#nuc)"/>
</g>
<rect x="61.8" y="66.3" width="14.8" height="14.6" fill="none" stroke="#dcdcea" stroke-width="0.9" />
<text x="20.2" y="128.3" font-size="13.7" fill="#fff">nENL</text>
<line x1="65.2" y1="127.3" x2="100.5" y2="127.3" stroke="#fff" stroke-width="1.6"/>
<text x="18.7" y="52.9" font-size="6.9" stroke-width="0.28"><tspan fill="#1590e6" stroke="#1590e6">Hoechst</tspan> <tspan fill="#dc14dc" stroke="#dc14dc">γ-Tubulin</tspan> <tspan fill="#10d810" stroke="#10d810">Centrin2</tspan></text>
<text x="18.7" y="61.2" font-size="6.9" fill="#e01010" stroke="#e01010" stroke-width="0.28">P-Centrin2</text>
<rect x="105.5" y="67.4" width="31.5" height="31.3" fill="#000" />
<clipPath id="cp2"><rect x="105.5" y="67.4" width="31.5" height="31.3"/></clipPath>
<g clip-path="url(#cp2)">
<circle cx="113.9" cy="79.7" r="2.6" fill="#ff28ff" filter="url(#bl2)"/>
<circle cx="113.9" cy="79.7" r="1.61" fill="#ff48ff" filter="url(#bl2)"/>
<circle cx="129.9" cy="84.6" r="2.6" fill="#ff28ff" filter="url(#bl2)"/>
<circle cx="129.9" cy="84.6" r="1.61" fill="#ff48ff" filter="url(#bl2)"/>
</g>
<rect x="139.2" y="67.4" width="31.5" height="31.3" fill="#000" />
<clipPath id="cp3"><rect x="139.2" y="67.4" width="31.5" height="31.3"/></clipPath>
<g clip-path="url(#cp3)">
<circle cx="148.2" cy="81.4" r="1.6" fill="#08e248" filter="url(#bl)"/>
<circle cx="145.2" cy="84.3" r="1.1" fill="#08e248" filter="url(#bl)"/>
<circle cx="165.1" cy="85.3" r="1.4" fill="#08e248" filter="url(#bl)"/>
<circle cx="165.1" cy="88.4" r="1.9" fill="#08e248" filter="url(#bl)"/>
</g>
<rect x="105.5" y="101.2" width="31.5" height="31.3" fill="#000" />
<clipPath id="cp4"><rect x="105.5" y="101.2" width="31.5" height="31.3"/></clipPath>
<g clip-path="url(#cp4)">
<circle cx="110.3" cy="114.5" r="1.2" fill="#700" filter="url(#bl)"/>
<circle cx="129.5" cy="117.5" r="1" fill="#500" filter="url(#bl)"/>
</g>
<rect x="139.2" y="101.2" width="31.5" height="31.3" fill="#000" />
<clipPath id="cp5"><rect x="139.2" y="101.2" width="31.5" height="31.3"/></clipPath>
<g clip-path="url(#cp5)">
<circle cx="147.7" cy="113" r="2.6" fill="#ff28ff" filter="url(#bl2)"/>
<circle cx="147.7" cy="113" r="1.61" fill="#ff48ff" filter="url(#bl2)"/>
<circle cx="148.2" cy="115.3" r="1.3" fill="#cff" filter="url(#bl)"/>
<circle cx="145.2" cy="118.2" r="1.2" fill="#08e248" filter="url(#bl)"/>
<circle cx="163.5" cy="117.6" r="2.6" fill="#ff28ff" filter="url(#bl2)"/>
<circle cx="163.5" cy="117.6" r="1.61" fill="#ff48ff" filter="url(#bl2)"/>
<circle cx="165.1" cy="118.3" r="1.2" fill="#cff" filter="url(#bl)"/>
<circle cx="165.1" cy="122.2" r="1.9" fill="#08e248" filter="url(#bl)"/>
<circle cx="143.8" cy="114.6" r="0.9" fill="#a01010" filter="url(#bl)"/>
</g>
<circle cx="66.4" cy="71.6" r="1.2" fill="#ff28ff" filter="url(#bl0)"/>
<circle cx="66.1" cy="72.6" r="0.6" fill="#6cf" filter="url(#bl0)"/>
<circle cx="72.8" cy="73.8" r="1.2" fill="#ff28ff" filter="url(#bl0)"/>
<circle cx="73.2" cy="75.1" r="0.8" fill="#4ee" filter="url(#bl0)"/>
<text x="179" y="41.6" font-size="11" fill="#111" stroke="#111" stroke-width="0.3">G2: E2</text>
<rect x="178.3" y="45.5" width="87" height="87" fill="#000" />
<clipPath id="cp6"><rect x="178.3" y="45.5" width="87" height="87"/></clipPath>
<g clip-path="url(#cp6)">
<ellipse cx="221" cy="97" rx="35" ry="38" fill="url(#gB)" filter="url(#nuc3)"/>
<ellipse cx="273.5" cy="58" rx="14" ry="31" fill="url(#gB)" filter="url(#nuc3)" transform="rotate(14 273.5 58)"/>
<ellipse cx="176" cy="136" rx="11" ry="8" fill="url(#gB)" filter="url(#nuc3)"/>
</g>
<rect x="211.7" y="79" width="14.4" height="14.4" fill="none" stroke="#dcdcea" stroke-width="0.9" />
<text x="182.1" y="128.3" font-size="13.7" fill="#fff">ENL</text>
<line x1="227.7" y1="127.3" x2="262.9" y2="127.3" stroke="#fff" stroke-width="1.6"/>
<text x="180.6" y="52.9" font-size="6.9" stroke-width="0.28"><tspan fill="#1590e6" stroke="#1590e6">Hoechst</tspan> <tspan fill="#dc14dc" stroke="#dc14dc">γ-Tubulin</tspan> <tspan fill="#10d810" stroke="#10d810">Centrin2</tspan></text>
<text x="180.6" y="61.2" font-size="6.9" fill="#e01010" stroke="#e01010" stroke-width="0.28">P-Centrin2</text>
<rect x="267.4" y="67.4" width="31.5" height="31.3" fill="#000" />
<clipPath id="cp7"><rect x="267.4" y="67.4" width="31.5" height="31.3"/></clipPath>
<g clip-path="url(#cp7)">
<circle cx="276.2" cy="83.2" r="2.1" fill="#ff28ff" filter="url(#bl2)"/>
<circle cx="276.2" cy="83.2" r="1.3" fill="#ff48ff" filter="url(#bl2)"/>
<circle cx="278.7" cy="86.6" r="2.2" fill="#ff28ff" filter="url(#bl2)"/>
<circle cx="278.7" cy="86.6" r="1.36" fill="#ff48ff" filter="url(#bl2)"/>
<circle cx="290" cy="78.2" r="1" fill="#ff28ff" filter="url(#bl)"/>
</g>
<rect x="301.1" y="67.4" width="31.5" height="31.3" fill="#000" />
<clipPath id="cp8"><rect x="301.1" y="67.4" width="31.5" height="31.3"/></clipPath>
<g clip-path="url(#cp8)">
<circle cx="324.7" cy="77.7" r="2.2" fill="#08e248" filter="url(#bl)"/>
<circle cx="312.6" cy="86.5" r="1.2" fill="#08e248" filter="url(#bl)"/>
<circle cx="307.6" cy="82.7" r="0.8" fill="#08e248" filter="url(#bl)"/>
<circle cx="317.6" cy="88.2" r="0.8" fill="#08e248" filter="url(#bl)"/>
<circle cx="305" cy="83.5" r="0.5" fill="#08e248" filter="url(#bl)"/>
</g>
<rect x="267.4" y="101.2" width="31.5" height="31.3" fill="#000" />
<clipPath id="cp9"><rect x="267.4" y="101.2" width="31.5" height="31.3"/></clipPath>
<g clip-path="url(#cp9)">
<circle cx="289.2" cy="112.1" r="1.3" fill="#e61414" filter="url(#bl)"/>
</g>
<rect x="301.1" y="101.2" width="31.5" height="31.3" fill="#000" />
<clipPath id="cp10"><rect x="301.1" y="101.2" width="31.5" height="31.3"/></clipPath>
<g clip-path="url(#cp10)">
<circle cx="309.6" cy="116.6" r="2.2" fill="#ff28ff" filter="url(#bl2)"/>
<circle cx="309.6" cy="116.6" r="1.36" fill="#ff48ff" filter="url(#bl2)"/>
<circle cx="312.1" cy="120.4" r="2.2" fill="#ff28ff" filter="url(#bl2)"/>
<circle cx="312.1" cy="120.4" r="1.36" fill="#ff48ff" filter="url(#bl2)"/>
<circle cx="312.8" cy="121.5" r="1" fill="#aff" filter="url(#bl)"/>
<circle cx="309.2" cy="117.6" r="0.8" fill="#faf" filter="url(#bl)"/>
<circle cx="324.4" cy="112.9" r="2.2" fill="#08e248" filter="url(#bl)"/>
<circle cx="323.5" cy="111.4" r="1.2" fill="#fbe" filter="url(#bl)"/>
<circle cx="317.6" cy="122.9" r="0.8" fill="#08e248" filter="url(#bl)"/>
<circle cx="306.2" cy="118" r="0.6" fill="#08e248" filter="url(#bl)"/>
</g>
<circle cx="215.2" cy="84" r="1.1" fill="#ff28ff" filter="url(#bl0)"/>
<circle cx="216.6" cy="86" r="0.9" fill="#ff28ff" filter="url(#bl0)"/>
<circle cx="221.6" cy="82.8" r="1" fill="#9ef" filter="url(#bl0)"/>
<circle cx="217" cy="87" r="0.5" fill="#6f8" filter="url(#bl0)"/>
<text x="366.3" y="41.6" font-size="11" fill="#111" stroke="#111" stroke-width="0.3">G2 DMSO</text>
<rect x="366.1" y="45.5" width="87" height="87" fill="#000" />
<clipPath id="cp11"><rect x="366.1" y="45.5" width="87" height="87"/></clipPath>
<g clip-path="url(#cp11)">
<ellipse cx="412" cy="90.5" rx="35" ry="36.5" fill="url(#gD)" filter="url(#nuc2)"/>
</g>
<rect x="399.5" y="89.8" width="14.3" height="13.9" fill="none" stroke="#dcdcea" stroke-width="0.9" />
<text x="369.9" y="128.3" font-size="13.7" fill="#fff">nENL</text>
<line x1="414.6" y1="127.3" x2="449.7" y2="127.3" stroke="#fff" stroke-width="1.6"/>
<text x="368.4" y="52.9" font-size="6.9" stroke-width="0.28"><tspan fill="#1590e6" stroke="#1590e6">Hoechst</tspan> <tspan fill="#dc14dc" stroke="#dc14dc">γ-Tubulin</tspan> <tspan fill="#10d810" stroke="#10d810">Centrin2</tspan></text>
<text x="368.4" y="61.2" font-size="6.9" fill="#e01010" stroke="#e01010" stroke-width="0.28">P-Centrin2</text>
<rect x="455.2" y="67.4" width="31.5" height="31.3" fill="#000" />
<clipPath id="cp12"><rect x="455.2" y="67.4" width="31.5" height="31.3"/></clipPath>
<g clip-path="url(#cp12)">
<circle cx="468.1" cy="77.6" r="2.3" fill="#ff28ff" filter="url(#bl2)"/>
<circle cx="468.1" cy="77.6" r="1.43" fill="#ff48ff" filter="url(#bl2)"/>
<circle cx="470.2" cy="83.4" r="2.5" fill="#ff28ff" filter="url(#bl2)"/>
<circle cx="470.2" cy="83.4" r="1.55" fill="#ff48ff" filter="url(#bl2)"/>
<circle cx="466" cy="80.8" r="1.9" fill="#ff28ff" filter="url(#bl2)"/>
<circle cx="466" cy="80.8" r="1.18" fill="#ff48ff" filter="url(#bl2)"/>
</g>
<rect x="488.9" y="67.4" width="31.5" height="31.3" fill="#000" />
<clipPath id="cp13"><rect x="488.9" y="67.4" width="31.5" height="31.3"/></clipPath>
<g clip-path="url(#cp13)">
<circle cx="500.6" cy="80.3" r="1.6" fill="#08e248" filter="url(#bl)"/>
<circle cx="505.8" cy="79.7" r="1.1" fill="#08e248" filter="url(#bl)"/>
<circle cx="505.3" cy="88.2" r="1.4" fill="#08e248" filter="url(#bl)"/>
<circle cx="502.9" cy="91" r="1.2" fill="#08e248" filter="url(#bl)"/>
</g>
<rect x="455.2" y="101.2" width="31.5" height="31.3" fill="#000" />
<clipPath id="cp14"><rect x="455.2" y="101.2" width="31.5" height="31.3"/></clipPath>
<g clip-path="url(#cp14)">
<circle cx="471" cy="112" r="0.8" fill="#400" filter="url(#bl)"/>
<circle cx="460.5" cy="116" r="0.7" fill="#400" filter="url(#bl)"/>
</g>
<rect x="488.9" y="101.2" width="31.5" height="31.3" fill="#000" />
<clipPath id="cp15"><rect x="488.9" y="101.2" width="31.5" height="31.3"/></clipPath>
<g clip-path="url(#cp15)">
<circle cx="501.5" cy="111.6" r="2.3" fill="#ff28ff" filter="url(#bl2)"/>
<circle cx="501.5" cy="111.6" r="1.43" fill="#ff48ff" filter="url(#bl2)"/>
<circle cx="503.6" cy="117.4" r="2.5" fill="#ff28ff" filter="url(#bl2)"/>
<circle cx="503.6" cy="117.4" r="1.55" fill="#ff48ff" filter="url(#bl2)"/>
<circle cx="500.6" cy="114.2" r="1.4" fill="#9ff" filter="url(#bl)"/>
<circle cx="505.8" cy="113.4" r="1.1" fill="#08e248" filter="url(#bl)"/>
<circle cx="505.3" cy="122.1" r="1.4" fill="#08e248" filter="url(#bl)"/>
<circle cx="502.9" cy="124.8" r="1.2" fill="#08e248" filter="url(#bl)"/>
</g>
<circle cx="405.6" cy="96" r="1.1" fill="#ff28ff" filter="url(#bl0)"/>
<circle cx="405.9" cy="98.2" r="1" fill="#ff28ff" filter="url(#bl0)"/>
<circle cx="406.4" cy="97" r="0.6" fill="#8ef" filter="url(#bl0)"/>
<text x="528.6" y="41.6" font-size="11" fill="#111" stroke="#111" stroke-width="0.3">G2 BPA</text>
<rect x="528.1" y="45.5" width="87" height="87" fill="#000" />
<clipPath id="cp16"><rect x="528.1" y="45.5" width="87" height="87"/></clipPath>
<g clip-path="url(#cp16)">
<ellipse cx="570.7" cy="89.5" rx="35.4" ry="36.5" fill="url(#gN)" filter="url(#nuc)"/>
</g>
<rect x="558.2" y="77.2" width="14.6" height="14.3" fill="none" stroke="#dcdcea" stroke-width="0.9" />
<text x="531.9" y="128.3" font-size="13.7" fill="#fff">ENL</text>
<line x1="575.8" y1="127.3" x2="610.9" y2="127.3" stroke="#fff" stroke-width="1.6"/>
<text x="530.4" y="52.9" font-size="6.9" stroke-width="0.28"><tspan fill="#1590e6" stroke="#1590e6">Hoechst</tspan> <tspan fill="#dc14dc" stroke="#dc14dc">γ-Tubulin</tspan> <tspan fill="#10d810" stroke="#10d810">Centrin2</tspan></text>
<text x="530.4" y="61.2" font-size="6.9" fill="#e01010" stroke="#e01010" stroke-width="0.28">P-Centrin2</text>
<rect x="617.2" y="67.4" width="31.5" height="31.3" fill="#000" />
<clipPath id="cp17"><rect x="617.2" y="67.4" width="31.5" height="31.3"/></clipPath>
<g clip-path="url(#cp17)">
<circle cx="633.8" cy="79.4" r="2.4" fill="#ff28ff" filter="url(#bl2)"/>
<circle cx="633.8" cy="79.4" r="1.49" fill="#ff48ff" filter="url(#bl2)"/>
<circle cx="636.7" cy="85" r="2.8" fill="#ff28ff" filter="url(#bl2)"/>
<circle cx="636.7" cy="85" r="1.74" fill="#ff48ff" filter="url(#bl2)"/>
<circle cx="627.6" cy="85.6" r="2.1" fill="#ff28ff" filter="url(#bl2)"/>
<circle cx="627.6" cy="85.6" r="1.3" fill="#ff48ff" filter="url(#bl2)"/>
</g>
<rect x="650.9" y="67.4" width="31.5" height="31.3" fill="#000" />
<clipPath id="cp18"><rect x="650.9" y="67.4" width="31.5" height="31.3"/></clipPath>
<g clip-path="url(#cp18)">
<circle cx="659.6" cy="86.1" r="3" fill="#08e248" filter="url(#bl2)"/>
<circle cx="659.6" cy="86.1" r="1.86" fill="#20f860" filter="url(#bl2)"/>
<ellipse cx="664.7" cy="79.4" rx="2.2" ry="1" fill="#08e248" filter="url(#bl)" transform="rotate(50 664.7 79.4)"/>
<circle cx="670.4" cy="85.6" r="1.4" fill="#08e248" filter="url(#bl)"/>
<circle cx="670.6" cy="77.6" r="1.1" fill="#0a9a30" filter="url(#bl)"/>
</g>
<rect x="617.2" y="101.2" width="31.5" height="31.3" fill="#000" />
<clipPath id="cp19"><rect x="617.2" y="101.2" width="31.5" height="31.3"/></clipPath>
<g clip-path="url(#cp19)">
<circle cx="631.7" cy="115.8" r="2" fill="#e61414" filter="url(#bl2)"/>
<circle cx="631.7" cy="115.8" r="1.24" fill="#f82818" filter="url(#bl2)"/>
<circle cx="634.4" cy="113.8" r="1" fill="#e61414" filter="url(#bl)"/>
<circle cx="639.4" cy="109.6" r="0.9" fill="#800" filter="url(#bl)"/>
</g>
<rect x="650.9" y="101.2" width="31.5" height="31.3" fill="#000" />
<clipPath id="cp20"><rect x="650.9" y="101.2" width="31.5" height="31.3"/></clipPath>
<g clip-path="url(#cp20)">
<circle cx="666.3" cy="110.8" r="2.8" fill="#ff28ff" filter="url(#bl2)"/>
<circle cx="666.3" cy="110.8" r="1.74" fill="#ff48ff" filter="url(#bl2)"/>
<circle cx="669" cy="115.4" r="2.6" fill="#ff28ff" filter="url(#bl2)"/>
<circle cx="669" cy="115.4" r="1.61" fill="#ff48ff" filter="url(#bl2)"/>
<circle cx="660.2" cy="116.8" r="2.3" fill="#ff70d0" filter="url(#bl2)"/>
<circle cx="658.2" cy="118.2" r="1.1" fill="#e61414" filter="url(#bl)"/>
<circle cx="662.7" cy="120.5" r="2.8" fill="#08e248" filter="url(#bl2)"/>
<circle cx="662.7" cy="120.5" r="1.74" fill="#20f860" filter="url(#bl2)"/>
<circle cx="673" cy="119.4" r="1.4" fill="#08e248" filter="url(#bl)"/>
<circle cx="673.3" cy="111.7" r="0.9" fill="#0a9a30" filter="url(#bl)"/>
<circle cx="668" cy="113.4" r="1" fill="#fdf" filter="url(#bl)"/>
</g>
<circle cx="565.4" cy="83.6" r="1.2" fill="#ff28ff" filter="url(#bl0)"/>
<circle cx="564.4" cy="85.2" r="0.8" fill="#f4a" filter="url(#bl0)"/>
<circle cx="566.4" cy="85.2" r="0.6" fill="#4f8" filter="url(#bl0)"/>
<text x="257" y="590" font-size="11.9" fill="#111" stroke="#111" stroke-width="0.3">HCT116 + empty vector</text>
<rect x="257" y="594.1" width="87.2" height="87" fill="#000" />
<clipPath id="cp21"><rect x="257" y="594.1" width="87.2" height="87"/></clipPath>
<g clip-path="url(#cp21)">
<ellipse cx="295" cy="650" rx="24" ry="24" fill="url(#gJ)" filter="url(#nuc4)" transform="rotate(-20 295 650)"/>
<ellipse cx="313" cy="624" rx="23" ry="21" fill="url(#gK)" filter="url(#nuc4)" transform="rotate(15 313 624)"/>
<ellipse cx="341" cy="603" rx="10" ry="18" fill="url(#gJ)" filter="url(#nuc4)" transform="rotate(-35 341 603)"/>
</g>
<rect x="280.7" y="621.2" width="14.5" height="14.2" fill="none" stroke="#dcdcea" stroke-width="0.9" />
<rect x="311.3" y="634.3" width="14.3" height="14.2" fill="none" stroke="#dcdcea" stroke-width="0.9" />
<line x1="261.2" y1="676.8" x2="296.6" y2="676.8" stroke="#fff" stroke-width="1.6"/>
<text x="259.3" y="601.5" font-size="6.9" stroke-width="0.28"><tspan fill="#1590e6" stroke="#1590e6">Hoechst</tspan> <tspan fill="#dc14dc" stroke="#dc14dc">γ-Tubulin</tspan> <tspan fill="#10d810" stroke="#10d810">Centrin2</tspan></text>
<text x="259.3" y="609.6" font-size="6.9" fill="#e01010" stroke="#e01010" stroke-width="0.28">P-Centrin2</text>
<text x="273" y="631.8" font-size="11" text-anchor="middle" fill="#fff">1</text>
<text x="333.2" y="646.4" font-size="11" text-anchor="middle" fill="#fff">2</text>
<rect x="346.2" y="597.9" width="39.2" height="38.9" fill="#000" />
<clipPath id="cp22"><rect x="346.2" y="597.9" width="39.2" height="38.9"/></clipPath>
<g clip-path="url(#cp22)">
<circle cx="365.4" cy="613.6" r="3.2" fill="#e61414" filter="url(#bl2)"/>
<circle cx="365.4" cy="613.6" r="1.98" fill="#f82818" filter="url(#bl2)"/>
<circle cx="368" cy="617.8" r="2.7" fill="#08e248" filter="url(#bl2)"/>
<circle cx="368" cy="617.8" r="1.67" fill="#20f860" filter="url(#bl2)"/>
<circle cx="366.8" cy="615.8" r="1.5" fill="#ff2" filter="url(#bl)"/>
<ellipse cx="361" cy="621.6" rx="2.4" ry="1.5" fill="#08e248" filter="url(#bl2)" transform="rotate(-20 361 621.6)"/>
<ellipse cx="361" cy="621.6" rx="1.49" ry="0.93" fill="#20f860" filter="url(#bl2)" transform="rotate(-20 361 621.6)"/>
<circle cx="371" cy="611.2" r="0.9" fill="#e61414" filter="url(#bl)"/>
<circle cx="358.4" cy="618.6" r="0.7" fill="#a00" filter="url(#bl)"/>
</g>
<text x="350.8" y="607.1" font-size="10.5" text-anchor="middle" fill="#fff">1</text>
<rect x="388.1" y="597.9" width="39.2" height="38.9" fill="#000" />
<clipPath id="cp23"><rect x="388.1" y="597.9" width="39.2" height="38.9"/></clipPath>
<g clip-path="url(#cp23)">
<circle cx="408.7" cy="615.4" r="3.2" fill="#e61414" filter="url(#bl2)"/>
<circle cx="408.7" cy="615.4" r="1.98" fill="#f82818" filter="url(#bl2)"/>
<circle cx="411.8" cy="619.4" r="3.8" fill="#08e248" filter="url(#bl2)"/>
<circle cx="411.8" cy="619.4" r="2.36" fill="#20f860" filter="url(#bl2)"/>
<ellipse cx="402.8" cy="619.6" rx="3.6" ry="2" fill="#08e248" filter="url(#bl2)" transform="rotate(10 402.8 619.6)"/>
<ellipse cx="402.8" cy="619.6" rx="2.23" ry="1.24" fill="#20f860" filter="url(#bl2)" transform="rotate(10 402.8 619.6)"/>
<circle cx="399.2" cy="615.4" r="1.4" fill="#e61414" filter="url(#bl2)"/>
<circle cx="399.2" cy="615.4" r="0.87" fill="#f82818" filter="url(#bl2)"/>
<circle cx="409.9" cy="617" r="1.2" fill="#fd4" filter="url(#bl)"/>
</g>
<text x="422.5" y="607.1" font-size="10.5" text-anchor="middle" fill="#fff">2</text>
<rect x="346.2" y="639.2" width="39.2" height="38.9" fill="#000" />
<clipPath id="cp24"><rect x="346.2" y="639.2" width="39.2" height="38.9"/></clipPath>
<g clip-path="url(#cp24)">
<circle cx="364.8" cy="658.4" r="5.2" fill="#ff28ff" filter="url(#bl2)"/>
<circle cx="364.8" cy="658.4" r="3.22" fill="#ff48ff" filter="url(#bl2)"/>
<circle cx="367.2" cy="660.9" r="2.2" fill="#ffffff" filter="url(#bl2)"/>
<circle cx="361" cy="665.8" r="1.5" fill="#08e248" filter="url(#bl2)"/>
<circle cx="361" cy="665.8" r="0.93" fill="#20f860" filter="url(#bl2)"/>
<circle cx="368" cy="669.2" r="1" fill="#e61414" filter="url(#bl)"/>
<circle cx="370.4" cy="653.6" r="1" fill="#e61414" filter="url(#bl)"/>
<circle cx="364" cy="654.6" r="2.6" fill="#ff28ff" filter="url(#bl2)"/>
<circle cx="364" cy="654.6" r="1.61" fill="#ff48ff" filter="url(#bl2)"/>
</g>
<text x="350.8" y="675.1" font-size="10.5" text-anchor="middle" fill="#fff">1</text>
<rect x="388.1" y="639.2" width="39.2" height="38.9" fill="#000" />
<clipPath id="cp25"><rect x="388.1" y="639.2" width="39.2" height="38.9"/></clipPath>
<g clip-path="url(#cp25)">
<circle cx="402.4" cy="656.2" r="4.2" fill="#ff28ff" filter="url(#bl2)"/>
<circle cx="402.4" cy="656.2" r="2.6" fill="#ff48ff" filter="url(#bl2)"/>
<circle cx="410.6" cy="657.8" r="3.7" fill="#ff28ff" filter="url(#bl2)"/>
<circle cx="410.6" cy="657.8" r="2.29" fill="#ff48ff" filter="url(#bl2)"/>
<circle cx="413.8" cy="662.4" r="3.7" fill="#08e248" filter="url(#bl2)"/>
<circle cx="413.8" cy="662.4" r="2.29" fill="#20f860" filter="url(#bl2)"/>
<ellipse cx="406" cy="662" rx="4.2" ry="1.6" fill="#08e248" filter="url(#bl2)" transform="rotate(15 406 662)"/>
<ellipse cx="406" cy="662" rx="2.6" ry="0.99" fill="#20f860" filter="url(#bl2)" transform="rotate(15 406 662)"/>
<circle cx="411.9" cy="659.5" r="1.6" fill="#ffffff" filter="url(#bl2)"/>
<circle cx="400" cy="660.7" r="1.4" fill="#e61414" filter="url(#bl2)"/>
<circle cx="400" cy="660.7" r="0.87" fill="#f82818" filter="url(#bl2)"/>
</g>
<text x="422.5" y="675.1" font-size="10.5" text-anchor="middle" fill="#fff">2</text>
<circle cx="287.4" cy="629" r="1.5" fill="#ff28ff" filter="url(#bl0)"/>
<circle cx="287.8" cy="628.6" r="0.7" fill="#ffffff" filter="url(#bl0)"/>
<circle cx="316.4" cy="641.2" r="1.4" fill="#ff28ff" filter="url(#bl0)"/>
<ellipse cx="318.8" cy="642.6" rx="1.6" ry="0.8" fill="#08e248" filter="url(#bl0)" transform="rotate(15 318.8 642.6)"/>
<circle cx="317" cy="641.5" r="0.5" fill="#ffffff" filter="url(#bl0)"/>
<text x="257" y="696.7" font-size="11.9" fill="#111" stroke="#111" stroke-width="0.3">HCT116 <tspan font-style="italic">CTN2</tspan> KO + CTN2 WT</text>
<rect x="257" y="700.8" width="87.2" height="87" fill="#000" />
<clipPath id="cp26"><rect x="257" y="700.8" width="87.2" height="87"/></clipPath>
<g clip-path="url(#cp26)">
<ellipse cx="301" cy="744" rx="33" ry="29" fill="url(#gK)" filter="url(#nuc4)"/>
<ellipse cx="334" cy="800" rx="30" ry="19" fill="url(#gJ)" filter="url(#nuc4)" transform="rotate(-20 334 800)"/>
</g>
<rect x="290.6" y="736.1" width="14.2" height="13.7" fill="none" stroke="#dcdcea" stroke-width="0.9" />
<rect x="297.4" y="751" width="14.2" height="13.9" fill="none" stroke="#dcdcea" stroke-width="0.9" />
<line x1="261.2" y1="782.6" x2="296.6" y2="782.6" stroke="#fff" stroke-width="1.6"/>
<text x="259.3" y="707.7" font-size="6.9" stroke-width="0.28"><tspan fill="#1590e6" stroke="#1590e6">Hoechst</tspan> <tspan fill="#dc14dc" stroke="#dc14dc">γ-Tubulin</tspan> <tspan fill="#10d810" stroke="#10d810">Centrin2</tspan></text>
<text x="259.3" y="715.8" font-size="6.9" fill="#e01010" stroke="#e01010" stroke-width="0.28">P-Centrin2</text>
<text x="282.1" y="745" font-size="11" text-anchor="middle" fill="#fff">1</text>
<text x="318.8" y="761.7" font-size="11" text-anchor="middle" fill="#fff">2</text>
<rect x="346.2" y="704.1" width="39.2" height="38.8" fill="#000" />
<clipPath id="cp27"><rect x="346.2" y="704.1" width="39.2" height="38.8"/></clipPath>
<g clip-path="url(#cp27)">
<ellipse cx="364.6" cy="722.6" rx="3.4" ry="2.4" fill="#e61414" filter="url(#bl2)" transform="rotate(45 364.6 722.6)"/>
<ellipse cx="364.6" cy="722.6" rx="2.11" ry="1.49" fill="#f82818" filter="url(#bl2)" transform="rotate(45 364.6 722.6)"/>
<circle cx="364.7" cy="723.2" r="1.7" fill="#ff2" filter="url(#bl)"/>
<circle cx="361.6" cy="719.8" r="1" fill="#e61414" filter="url(#bl)"/>
<circle cx="368.4" cy="727.4" r="1" fill="#e61414" filter="url(#bl)"/>
<circle cx="367.5" cy="720.5" r="0.8" fill="#e61414" filter="url(#bl)"/>
</g>
<text x="350.8" y="713.3" font-size="10.5" text-anchor="middle" fill="#fff">1</text>
<rect x="388.1" y="704.1" width="39.2" height="38.8" fill="#000" />
<clipPath id="cp28"><rect x="388.1" y="704.1" width="39.2" height="38.8"/></clipPath>
<g clip-path="url(#cp28)">
<ellipse cx="406.2" cy="721.8" rx="2.8" ry="1.7" fill="#e61414" filter="url(#bl2)" transform="rotate(-25 406.2 721.8)"/>
<ellipse cx="406.2" cy="721.8" rx="1.74" ry="1.05" fill="#f82818" filter="url(#bl2)" transform="rotate(-25 406.2 721.8)"/>
<circle cx="405.4" cy="724.9" r="1.2" fill="#08e248" filter="url(#bl)"/>
<circle cx="405.8" cy="723.6" r="0.7" fill="#ee3" filter="url(#bl)"/>
</g>
<text x="422.5" y="713.3" font-size="10.5" text-anchor="middle" fill="#fff">2</text>
<rect x="346.2" y="745.1" width="39.2" height="38.8" fill="#000" />
<clipPath id="cp29"><rect x="346.2" y="745.1" width="39.2" height="38.8"/></clipPath>
<g clip-path="url(#cp29)">
<circle cx="365.6" cy="764.2" r="5.8" fill="#ff28ff" filter="url(#bl2)"/>
<circle cx="365.6" cy="764.2" r="3.6" fill="#ff48ff" filter="url(#bl2)"/>
<circle cx="365.2" cy="766.5" r="2.3" fill="#ffffff" filter="url(#bl2)"/>
<circle cx="369.5" cy="771.4" r="1.1" fill="#e61414" filter="url(#bl)"/>
<circle cx="362" cy="760" r="2.5" fill="#ff28ff" filter="url(#bl2)"/>
<circle cx="362" cy="760" r="1.55" fill="#ff48ff" filter="url(#bl2)"/>
</g>
<text x="350.8" y="780.9" font-size="10.5" text-anchor="middle" fill="#fff">1</text>
<rect x="388.1" y="745.1" width="39.2" height="38.8" fill="#000" />
<clipPath id="cp30"><rect x="388.1" y="745.1" width="39.2" height="38.8"/></clipPath>
<g clip-path="url(#cp30)">
<ellipse cx="405" cy="763.6" rx="5.2" ry="4.8" fill="#ff28ff" filter="url(#bl2)" transform="rotate(0 405 763.6)" opacity="0.8"/>
<circle cx="406.4" cy="766.6" r="2.4" fill="#ff28ff" filter="url(#bl2)"/>
<circle cx="406.4" cy="766.6" r="1.49" fill="#ff48ff" filter="url(#bl2)"/>
<circle cx="407.2" cy="769.8" r="1.2" fill="#08e248" filter="url(#bl)"/>
<circle cx="406.9" cy="768.6" r="0.8" fill="#dfd" filter="url(#bl)"/>
</g>
<text x="422.5" y="780.9" font-size="10.5" text-anchor="middle" fill="#fff">2</text>
<circle cx="297.6" cy="743.5" r="1.7" fill="#ff28ff" filter="url(#bl0)"/>
<circle cx="297.6" cy="743.5" r="0.8" fill="#ffffff" filter="url(#bl0)"/>
<circle cx="304.6" cy="757" r="1.3" fill="#ff28ff" filter="url(#bl0)"/>
<ellipse cx="308" cy="787" rx="1.6" ry="0.7" fill="#ff28ff" filter="url(#bl0)" transform="rotate(60 308 787)"/>
<circle cx="337" cy="768" r="0.5" fill="#3cf" filter="url(#bl0)"/>
<circle cx="331" cy="781" r="0.5" fill="#3d6" filter="url(#bl0)"/>
<text x="257" y="802.5" font-size="11.9" fill="#111" stroke="#111" stroke-width="0.3">HCT116 <tspan font-style="italic">CTN2</tspan> KO + CTN2 S170A</text>
<rect x="257" y="806.6" width="87.2" height="86.4" fill="#000" />
<clipPath id="cp31"><rect x="257" y="806.6" width="87.2" height="86.4"/></clipPath>
<g clip-path="url(#cp31)">
<ellipse cx="300" cy="854" rx="31" ry="32" fill="url(#gK)" filter="url(#nuc4)"/>
<ellipse cx="346" cy="826" rx="9" ry="30" fill="url(#gJ)" filter="url(#nuc4)" transform="rotate(-15 346 826)"/>
</g>
<rect x="296.4" y="832.8" width="14.2" height="13.9" fill="none" stroke="#dcdcea" stroke-width="0.9" />
<rect x="299.6" y="851.5" width="13.9" height="13.9" fill="none" stroke="#dcdcea" stroke-width="0.9" />
<line x1="261.2" y1="888.8" x2="296.6" y2="888.8" stroke="#fff" stroke-width="1.6"/>
<text x="259.3" y="813.4" font-size="6.9" stroke-width="0.28"><tspan fill="#1590e6" stroke="#1590e6">Hoechst</tspan> <tspan fill="#dc14dc" stroke="#dc14dc">γ-Tubulin</tspan> <tspan fill="#10d810" stroke="#10d810">Centrin2</tspan></text>
<text x="259.3" y="821.4" font-size="6.9" fill="#e01010" stroke="#e01010" stroke-width="0.28">P-Centrin2</text>
<text x="287.7" y="843.6" font-size="11" text-anchor="middle" fill="#fff">1</text>
<text x="321.6" y="863.6" font-size="11" text-anchor="middle" fill="#fff">2</text>
<rect x="346.2" y="809.2" width="39.2" height="38.9" fill="#000" />
<clipPath id="cp32"><rect x="346.2" y="809.2" width="39.2" height="38.9"/></clipPath>
<g clip-path="url(#cp32)">
<circle cx="364" cy="826" r="1.1" fill="#a81010" filter="url(#bl)"/>
<circle cx="365.2" cy="831.4" r="0.9" fill="#0a7a2a" filter="url(#bl)"/>
<circle cx="353" cy="819.5" r="0.6" fill="#0a7a2a" filter="url(#bl)"/>
</g>
<text x="350.8" y="818.4" font-size="10.5" text-anchor="middle" fill="#fff">1</text>
<rect x="388.1" y="809.2" width="39.2" height="38.9" fill="#000" />
<clipPath id="cp33"><rect x="388.1" y="809.2" width="39.2" height="38.9"/></clipPath>
<g clip-path="url(#cp33)">
<circle cx="406.4" cy="829.6" r="1.1" fill="#a81010" filter="url(#bl)"/>
</g>
<text x="422.5" y="818.4" font-size="10.5" text-anchor="middle" fill="#fff">2</text>
<rect x="346.2" y="851" width="39.2" height="38.9" fill="#000" />
<clipPath id="cp34"><rect x="346.2" y="851" width="39.2" height="38.9"/></clipPath>
<g clip-path="url(#cp34)">
<ellipse cx="364.3" cy="871.6" rx="5.6" ry="5" fill="#ff28ff" filter="url(#bl2)" transform="rotate(0 364.3 871.6)"/>
<ellipse cx="364.3" cy="871.6" rx="3.47" ry="3.1" fill="#ff48ff" filter="url(#bl2)" transform="rotate(0 364.3 871.6)"/>
<circle cx="352" cy="860" r="0.6" fill="#0a7a2a" filter="url(#bl)"/>
<circle cx="367" cy="869" r="2.4" fill="#ff28ff" filter="url(#bl2)"/>
<circle cx="367" cy="869" r="1.49" fill="#ff48ff" filter="url(#bl2)"/>
</g>
<text x="350.8" y="886.9" font-size="10.5" text-anchor="middle" fill="#fff">1</text>
<rect x="388.1" y="851" width="39.2" height="38.9" fill="#000" />
<clipPath id="cp35"><rect x="388.1" y="851" width="39.2" height="38.9"/></clipPath>
<g clip-path="url(#cp35)">
<ellipse cx="404.8" cy="871.6" rx="4.2" ry="3.8" fill="#ff28ff" filter="url(#bl2)" transform="rotate(0 404.8 871.6)" opacity="0.7"/>
<circle cx="407.5" cy="875.2" r="1.2" fill="#e61414" filter="url(#bl)"/>
<circle cx="406.5" cy="868.4" r="1.6" fill="#ff28ff" filter="url(#bl2)"/>
<circle cx="406.5" cy="868.4" r="0.99" fill="#ff48ff" filter="url(#bl2)"/>
<circle cx="403.4" cy="872.5" r="1.8" fill="#ff28ff" filter="url(#bl2)"/>
<circle cx="403.4" cy="872.5" r="1.12" fill="#ff48ff" filter="url(#bl2)"/>
</g>
<text x="422.5" y="886.9" font-size="10.5" text-anchor="middle" fill="#fff">2</text>
<ellipse cx="303.6" cy="841.2" rx="2" ry="1.5" fill="#ff28ff" filter="url(#bl0)" transform="rotate(0 303.6 841.2)"/>
<circle cx="306.6" cy="859.3" r="1" fill="#ff28ff" filter="url(#bl0)"/>
<circle cx="341" cy="826" r="0.7" fill="#ff28ff" filter="url(#bl0)"/>
<text x="65.8" y="819.3" font-size="11" text-anchor="end" fill="#111" transform="rotate(-45 65.8 819.3)">H<tspan font-size="6.6" dy="2.4">2</tspan><tspan dy="-2.4">O</tspan></text>
<text x="98.6" y="819.4" font-size="11" text-anchor="end" fill="#111" transform="rotate(-45 98.6 819.4)">PKI</text>
<line x1="42.9" y1="842.2" x2="99.9" y2="842.2" stroke="#222" stroke-width="0.95"/>
<text x="71" y="855" font-size="11" text-anchor="middle" fill="#111" stroke="#111" stroke-width="0.3">G-1 +</text>
<text x="180.3" y="820.8" font-size="11" text-anchor="end" fill="#111" transform="rotate(-45 180.3 820.8)">H<tspan font-size="6.6" dy="2.4">2</tspan><tspan dy="-2.4">O</tspan></text>
<text x="212.9" y="820.6" font-size="11" text-anchor="end" fill="#111" transform="rotate(-45 212.9 820.6)">PKI</text>
<line x1="160.2" y1="842.2" x2="217.1" y2="842.2" stroke="#222" stroke-width="0.95"/>
<text x="188.6" y="855" font-size="11" text-anchor="middle" fill="#111" stroke="#111" stroke-width="0.3">G-1 +</text>
<text x="523.3" y="652" font-size="11" text-anchor="middle" fill="#111" stroke="#111" stroke-width="0.3">ENL CTN2</text>
<text x="505.5" y="822.4" font-size="11" text-anchor="middle" fill="#111" stroke="#111" stroke-width="0.3">WT</text>
<text x="538.4" y="822.4" font-size="11" text-anchor="middle" fill="#111" stroke="#111" stroke-width="0.3">S170A</text>
<line x1="497.2" y1="828.2" x2="546.8" y2="828.2" stroke="#222" stroke-width="0.95"/>
<text x="522" y="841" font-size="11" text-anchor="middle" fill="#111" stroke="#111" stroke-width="0.3">CTN2 KO</text>
<text x="521.4" y="855" font-size="11" text-anchor="middle" fill="#111" stroke="#111" stroke-width="0.3">clone 1</text>
<line x1="489.4" y1="859.4" x2="553.7" y2="859.4" stroke="#222" stroke-width="0.95"/>
<text x="521.7" y="872.1" font-size="11" text-anchor="middle" fill="#111" stroke="#111" stroke-width="0.3">BPA +</text>
<text x="630.4" y="821" font-size="11" text-anchor="middle" fill="#111" stroke="#111" stroke-width="0.3">WT</text>
<text x="663.2" y="821" font-size="11" text-anchor="middle" fill="#111" stroke="#111" stroke-width="0.3">S170A</text>
<line x1="620.6" y1="826.1" x2="670.7" y2="826.1" stroke="#222" stroke-width="0.95"/>
<text x="646.2" y="839.2" font-size="11" text-anchor="middle" fill="#111" stroke="#111" stroke-width="0.3">CTN2 KO</text>
<text x="645.6" y="852.8" font-size="11" text-anchor="middle" fill="#111" stroke="#111" stroke-width="0.3">clone 1</text>
<line x1="614.2" y1="857.2" x2="677.8" y2="857.2" stroke="#222" stroke-width="0.95"/>
<text x="645.7" y="870.3" font-size="11" text-anchor="middle" fill="#111" stroke="#111" stroke-width="0.3">BPA +</text>
<text x="649.7" y="670.9" font-size="6.7" text-anchor="middle" fill="#222" font-style="italic" stroke="#222" stroke-width="0.15">p=0.036</text>
<line x1="632.4" y1="674.4" x2="667.5" y2="674.4" stroke="#222" stroke-width="0.7"/>
</svg>
</body></html>
